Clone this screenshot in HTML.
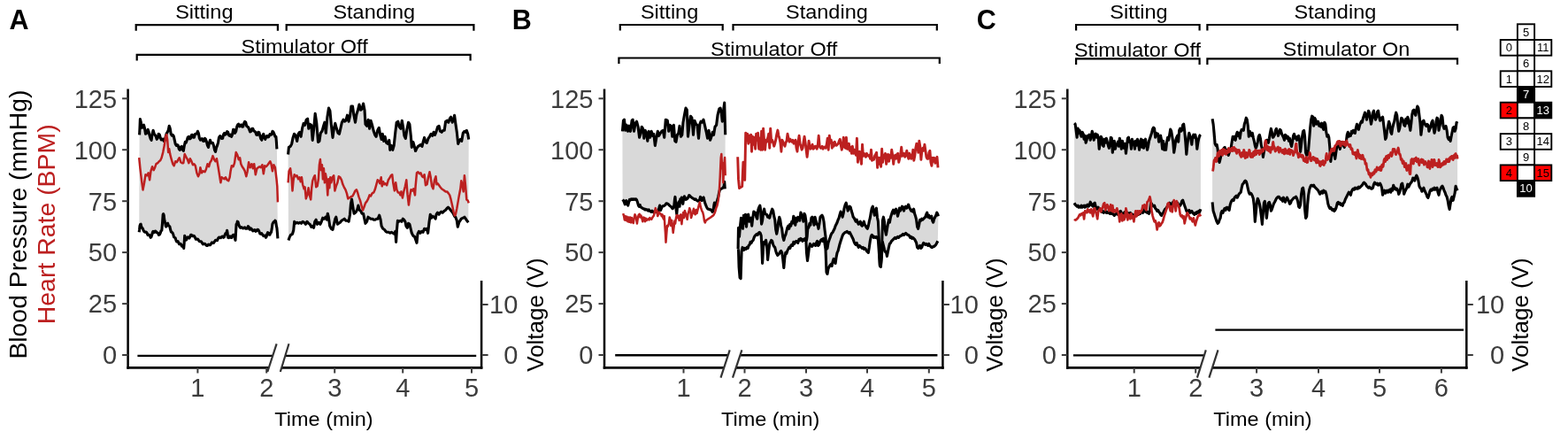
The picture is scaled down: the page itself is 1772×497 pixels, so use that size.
<!DOCTYPE html>
<html><head><meta charset="utf-8"><title>Figure</title>
<style>html,body{margin:0;padding:0;background:#fff;}svg{display:block;}</style>
</head><body>
<svg width="1772" height="497" viewBox="0 0 1772 497">
<rect width="1772" height="497" fill="#fff"/>
<polygon points="157.6,152.3 158.0,144.5 158.4,134.6 159.3,138.1 160.1,144.2 161.3,143.9 162.5,141.2 163.5,144.9 164.5,151.3 165.8,150.2 167.1,146.3 168.1,148.9 169.1,153.3 170.1,156.6 171.1,158.3 172.1,151.1 173.1,147.3 174.1,150.8 175.1,152.3 176.1,153.8 177.2,157.3 178.2,156.1 179.2,151.3 180.2,152.0 181.2,155.3 182.2,158.0 183.2,157.3 184.2,157.1 185.2,159.3 186.2,158.3 187.2,154.3 188.2,150.9 189.2,149.3 190.2,147.2 191.2,142.2 192.2,145.1 193.2,151.3 194.2,153.1 195.3,152.3 196.3,153.8 197.3,158.3 198.3,162.8 199.3,164.4 200.3,163.5 201.3,164.4 202.3,168.4 203.3,169.4 204.3,166.0 205.3,165.4 206.3,169.0 207.3,170.4 208.3,164.6 209.3,160.3 210.3,161.0 211.3,158.3 212.3,155.0 213.4,154.3 214.4,156.8 215.4,156.3 216.4,152.6 217.4,152.3 218.4,155.3 219.4,155.3 220.4,151.6 221.4,151.3 222.4,151.0 223.4,148.3 224.4,150.7 225.4,156.3 226.4,158.1 227.4,157.3 228.4,156.6 229.4,159.3 230.5,159.5 231.5,156.3 232.5,157.4 233.5,160.3 234.5,164.3 235.5,166.4 236.5,161.3 237.5,158.3 238.5,161.6 239.5,161.3 240.5,161.6 241.5,164.4 242.5,169.3 243.5,171.4 244.5,166.8 245.5,164.4 246.5,161.1 247.5,155.3 248.6,153.6 249.6,154.3 250.6,156.5 251.6,156.3 252.6,151.9 253.6,150.3 254.6,152.2 255.6,151.3 256.6,148.6 257.6,149.3 258.6,152.8 259.6,153.3 260.6,152.1 261.6,154.3 262.6,152.0 263.6,146.3 264.6,146.5 265.6,150.3 266.7,148.2 267.7,143.2 268.7,140.8 269.7,140.2 270.7,142.9 271.7,142.2 272.7,141.0 273.7,143.2 274.7,143.0 275.7,139.2 276.7,137.3 277.7,138.2 278.7,142.3 279.7,143.2 280.7,143.8 281.7,146.3 282.7,148.9 283.7,148.3 284.8,145.4 285.8,145.3 286.8,147.8 287.8,148.3 288.8,149.4 289.8,152.3 290.8,152.5 291.8,149.3 292.8,149.5 293.8,153.3 294.8,156.7 295.8,158.3 296.8,153.2 297.8,151.3 298.8,155.5 299.8,157.3 300.8,154.4 301.9,153.3 302.9,154.9 303.9,154.3 304.9,151.7 305.9,152.3 306.9,152.0 307.9,148.3 308.9,149.0 309.9,151.3 310.9,154.2 311.9,154.3 312.4,160.5 312.9,168.4 313.9,269.3 313.4,262.8 312.9,257.3 312.4,255.5 311.9,252.2 311.4,249.5 310.9,249.2 310.4,250.5 309.9,250.2 308.9,251.1 307.9,253.2 307.2,258.6 306.5,262.3 305.7,263.1 304.9,265.3 304.1,265.1 303.3,263.3 302.6,262.7 301.9,264.3 301.1,267.3 300.4,268.3 299.6,266.1 298.8,266.3 297.8,266.6 296.8,265.3 295.8,263.7 294.8,264.3 293.8,264.0 292.8,261.3 291.8,259.5 290.8,259.3 289.8,260.8 288.8,261.3 287.8,259.6 286.8,260.3 285.8,260.8 284.8,259.3 283.7,258.0 282.7,259.3 281.9,259.0 281.1,256.3 280.4,255.7 279.7,257.3 278.7,258.3 277.7,258.3 276.7,256.9 275.7,257.3 274.7,257.9 273.7,257.3 272.7,256.5 271.7,257.3 270.7,256.0 269.7,253.2 269.0,250.8 268.3,250.2 267.7,252.8 267.1,253.2 266.6,261.6 266.0,271.3 265.3,268.9 264.6,265.3 263.6,265.2 262.6,266.3 261.6,268.5 260.6,268.3 259.9,266.9 259.2,267.3 258.4,268.6 257.6,268.3 257.1,263.2 256.6,260.3 256.1,262.6 255.6,263.3 254.9,263.6 254.2,265.3 253.4,267.8 252.6,268.3 251.6,267.1 250.6,267.3 249.6,268.7 248.6,268.3 247.5,268.1 246.5,269.3 245.5,271.6 244.5,271.3 243.5,271.3 242.5,272.8 241.5,274.4 240.5,274.4 239.5,273.9 238.5,275.4 237.5,276.8 236.5,276.8 235.5,276.1 234.5,277.4 233.5,277.4 232.5,276.4 231.5,275.3 230.5,275.4 229.4,276.0 228.4,274.4 227.4,272.8 226.4,272.8 225.4,272.7 224.4,271.3 223.4,270.0 222.4,270.3 221.4,270.3 220.4,268.3 219.4,266.5 218.4,266.3 217.4,266.7 216.4,265.3 215.6,265.2 214.8,267.3 213.9,269.0 213.0,268.3 212.1,267.9 211.3,269.3 210.5,271.0 209.7,270.3 209.2,267.6 208.7,266.3 208.2,274.3 207.7,280.4 207.0,277.7 206.3,277.4 205.5,278.1 204.7,276.4 204.0,275.3 203.3,275.4 202.6,275.7 201.9,274.4 201.1,272.7 200.3,272.3 199.6,272.8 198.9,271.3 198.1,268.8 197.3,268.3 196.6,267.8 195.9,265.3 195.1,263.2 194.2,262.3 193.4,262.0 192.6,259.3 191.9,256.1 191.2,255.3 190.4,254.8 189.6,252.2 188.9,252.8 188.2,255.3 187.7,256.0 187.2,255.3 186.7,252.1 186.2,250.2 185.7,247.8 185.2,243.2 184.7,241.6 184.2,242.2 183.5,252.4 182.8,260.3 182.0,260.6 181.2,263.3 180.3,265.0 179.4,265.3 178.6,263.4 177.8,262.7 177.0,262.7 176.1,261.3 175.3,261.1 174.5,262.3 173.8,262.7 173.1,261.3 172.4,262.6 171.7,265.3 170.9,267.9 170.1,268.3 169.1,265.7 168.1,265.3 167.1,265.5 166.1,263.3 165.1,262.0 164.1,262.3 163.1,261.9 162.1,260.3 161.3,258.1 160.5,257.3 159.8,256.1 159.1,253.2 158.5,253.6 158.0,255.3 157.6,259.5 157.2,262.3" fill="#d9d9d9" stroke="none"/>
<polygon points="325.6,174.5 326.4,166.4 328.1,165.4 329.7,162.4 331.1,155.4 332.5,151.3 334.1,153.3 335.7,159.4 337.1,151.3 338.5,149.3 340.1,154.3 341.7,144.3 343.1,139.3 344.6,141.3 346.2,135.2 347.6,134.2 348.8,145.3 350.2,140.3 351.8,141.3 353.2,158.4 354.6,146.3 356.2,128.2 357.8,139.3 359.5,160.4 360.9,159.4 362.3,150.3 363.9,148.3 365.3,143.3 366.9,138.2 368.3,150.3 369.9,132.2 371.5,122.1 372.9,125.2 374.3,140.3 376.0,155.4 377.4,145.3 378.8,139.3 380.4,145.3 382.0,150.3 383.4,151.3 384.8,145.3 386.4,138.2 388.0,135.2 389.4,137.2 390.9,136.2 392.5,130.2 394.1,137.2 395.5,131.2 396.9,120.1 398.5,120.1 399.9,130.2 401.5,138.2 402.9,129.2 404.5,124.2 406.0,118.1 407.6,124.2 409.0,123.1 410.6,117.1 412.0,124.2 413.0,140.3 414.6,142.3 416.2,135.2 417.6,145.3 419.0,136.2 420.6,141.3 422.3,148.3 423.7,152.3 425.1,154.3 426.7,147.3 428.3,144.3 429.7,152.3 431.1,157.4 432.3,151.3 433.7,159.4 435.1,154.3 436.7,161.4 438.4,162.4 439.8,158.4 440.8,169.4 442.4,164.4 443.8,169.4 445.2,164.4 446.8,149.3 448.2,138.2 449.8,137.2 451.2,143.3 452.9,145.3 454.3,136.2 455.5,143.3 456.9,153.3 458.3,156.4 459.9,146.3 461.5,138.2 462.9,140.3 464.3,153.3 465.3,166.4 466.9,160.4 468.3,165.4 469.6,170.5 471.0,167.4 472.4,165.4 474.0,164.4 475.6,163.4 477.0,165.4 478.4,159.4 479.6,155.4 481.0,160.4 482.4,161.4 484.0,156.4 485.5,154.3 487.1,151.3 488.7,153.3 490.1,149.3 491.5,152.3 493.1,148.3 494.7,143.3 496.1,142.3 497.5,148.3 499.1,149.3 500.8,147.3 502.2,147.3 503.6,137.2 505.2,136.2 506.8,138.2 508.2,134.2 509.6,132.2 511.2,138.2 512.6,135.2 513.6,130.2 514.8,139.3 516.3,149.3 517.7,162.4 518.9,159.4 520.3,157.4 521.7,159.4 523.3,150.3 524.9,148.3 526.3,149.3 527.3,147.3 528.7,151.3 529.7,157.4 529.3,251.3 527.7,249.3 526.3,247.2 524.9,245.2 523.3,246.2 521.3,247.2 519.9,249.3 518.7,251.3 517.3,256.3 516.3,249.3 514.8,245.2 513.6,244.2 512.2,241.2 510.8,239.2 509.2,237.2 507.6,235.2 506.4,234.2 505.2,235.2 503.6,237.2 502.2,238.2 500.2,240.2 498.7,239.2 497.5,240.2 496.1,242.2 494.5,240.2 493.1,242.2 492.1,247.2 490.7,245.2 489.1,244.2 487.7,246.2 486.3,242.2 485.1,250.3 483.6,263.3 482.4,258.3 481.0,259.3 479.6,258.3 478.0,262.3 476.6,261.3 475.0,263.3 473.4,261.3 472.0,264.3 471.0,274.4 470.0,271.4 468.6,267.4 466.9,266.4 465.3,263.3 464.1,258.3 462.9,253.3 461.5,252.3 460.3,257.3 458.9,255.3 457.9,250.3 456.5,248.2 455.3,247.2 453.9,250.3 452.4,249.3 450.8,250.3 449.4,249.3 448.4,260.3 447.6,273.4 446.8,261.3 445.6,264.3 444.0,263.3 442.4,262.3 440.8,263.3 439.2,262.3 437.6,262.3 435.9,261.3 434.3,259.3 432.7,258.3 431.1,255.3 430.1,248.2 428.7,243.2 427.1,247.2 425.5,247.2 423.9,248.2 422.3,248.2 420.6,247.2 419.0,247.2 417.6,246.2 416.0,245.2 414.6,250.3 413.0,252.3 411.6,246.2 410.6,241.2 409.0,241.2 407.6,238.2 406.2,237.2 404.9,232.1 403.9,236.2 402.5,239.2 401.5,240.2 400.1,241.2 398.9,234.2 397.5,225.1 396.5,230.1 395.5,242.2 394.1,250.3 392.5,249.3 390.9,249.3 389.2,247.2 387.6,248.2 386.0,249.3 384.4,251.3 382.8,252.3 381.4,253.3 379.8,245.2 378.8,247.2 377.4,253.3 376.0,259.3 374.3,258.3 372.7,255.3 371.3,245.2 370.3,241.2 369.3,248.2 367.9,245.2 366.3,247.2 364.7,246.2 363.3,250.3 361.9,253.3 360.3,251.3 358.6,253.3 357.2,248.2 355.8,250.3 354.6,257.3 353.2,255.3 351.8,256.3 350.2,253.3 348.6,252.3 347.0,250.3 345.4,253.3 343.8,251.3 342.1,250.3 340.5,252.3 338.9,251.3 337.3,252.3 335.7,251.3 334.1,252.3 332.7,250.3 331.7,260.3 330.5,264.3 328.5,265.4 327.0,268.4 326.0,271.4" fill="#d9d9d9" stroke="none"/>
<polyline points="157.6,152.3 158.0,144.5 158.4,134.6 159.3,138.1 160.1,144.2 161.3,143.9 162.5,141.2 163.5,144.9 164.5,151.3 165.8,150.2 167.1,146.3 168.1,148.9 169.1,153.3 170.1,156.6 171.1,158.3 172.1,151.1 173.1,147.3 174.1,150.8 175.1,152.3 176.1,153.8 177.2,157.3 178.2,156.1 179.2,151.3 180.2,152.0 181.2,155.3 182.2,158.0 183.2,157.3 184.2,157.1 185.2,159.3 186.2,158.3 187.2,154.3 188.2,150.9 189.2,149.3 190.2,147.2 191.2,142.2 192.2,145.1 193.2,151.3 194.2,153.1 195.3,152.3 196.3,153.8 197.3,158.3 198.3,162.8 199.3,164.4 200.3,163.5 201.3,164.4 202.3,168.4 203.3,169.4 204.3,166.0 205.3,165.4 206.3,169.0 207.3,170.4 208.3,164.6 209.3,160.3 210.3,161.0 211.3,158.3 212.3,155.0 213.4,154.3 214.4,156.8 215.4,156.3 216.4,152.6 217.4,152.3 218.4,155.3 219.4,155.3 220.4,151.6 221.4,151.3 222.4,151.0 223.4,148.3 224.4,150.7 225.4,156.3 226.4,158.1 227.4,157.3 228.4,156.6 229.4,159.3 230.5,159.5 231.5,156.3 232.5,157.4 233.5,160.3 234.5,164.3 235.5,166.4 236.5,161.3 237.5,158.3 238.5,161.6 239.5,161.3 240.5,161.6 241.5,164.4 242.5,169.3 243.5,171.4 244.5,166.8 245.5,164.4 246.5,161.1 247.5,155.3 248.6,153.6 249.6,154.3 250.6,156.5 251.6,156.3 252.6,151.9 253.6,150.3 254.6,152.2 255.6,151.3 256.6,148.6 257.6,149.3 258.6,152.8 259.6,153.3 260.6,152.1 261.6,154.3 262.6,152.0 263.6,146.3 264.6,146.5 265.6,150.3 266.7,148.2 267.7,143.2 268.7,140.8 269.7,140.2 270.7,142.9 271.7,142.2 272.7,141.0 273.7,143.2 274.7,143.0 275.7,139.2 276.7,137.3 277.7,138.2 278.7,142.3 279.7,143.2 280.7,143.8 281.7,146.3 282.7,148.9 283.7,148.3 284.8,145.4 285.8,145.3 286.8,147.8 287.8,148.3 288.8,149.4 289.8,152.3 290.8,152.5 291.8,149.3 292.8,149.5 293.8,153.3 294.8,156.7 295.8,158.3 296.8,153.2 297.8,151.3 298.8,155.5 299.8,157.3 300.8,154.4 301.9,153.3 302.9,154.9 303.9,154.3 304.9,151.7 305.9,152.3 306.9,152.0 307.9,148.3 308.9,149.0 309.9,151.3 310.9,154.2 311.9,154.3 312.4,160.5 312.9,168.4" fill="none" stroke="#000" stroke-width="3.1" stroke-linejoin="round" stroke-linecap="butt"/>
<polyline points="157.2,262.3 157.6,259.5 158.0,255.3 158.5,253.6 159.1,253.2 159.8,256.1 160.5,257.3 161.3,258.1 162.1,260.3 163.1,261.9 164.1,262.3 165.1,262.0 166.1,263.3 167.1,265.5 168.1,265.3 169.1,265.7 170.1,268.3 170.9,267.9 171.7,265.3 172.4,262.6 173.1,261.3 173.8,262.7 174.5,262.3 175.3,261.1 176.1,261.3 177.0,262.7 177.8,262.7 178.6,263.4 179.4,265.3 180.3,265.0 181.2,263.3 182.0,260.6 182.8,260.3 183.5,252.4 184.2,242.2 184.7,241.6 185.2,243.2 185.7,247.8 186.2,250.2 186.7,252.1 187.2,255.3 187.7,256.0 188.2,255.3 188.9,252.8 189.6,252.2 190.4,254.8 191.2,255.3 191.9,256.1 192.6,259.3 193.4,262.0 194.2,262.3 195.1,263.2 195.9,265.3 196.6,267.8 197.3,268.3 198.1,268.8 198.9,271.3 199.6,272.8 200.3,272.3 201.1,272.7 201.9,274.4 202.6,275.7 203.3,275.4 204.0,275.3 204.7,276.4 205.5,278.1 206.3,277.4 207.0,277.7 207.7,280.4 208.2,274.3 208.7,266.3 209.2,267.6 209.7,270.3 210.5,271.0 211.3,269.3 212.1,267.9 213.0,268.3 213.9,269.0 214.8,267.3 215.6,265.2 216.4,265.3 217.4,266.7 218.4,266.3 219.4,266.5 220.4,268.3 221.4,270.3 222.4,270.3 223.4,270.0 224.4,271.3 225.4,272.7 226.4,272.8 227.4,272.8 228.4,274.4 229.4,276.0 230.5,275.4 231.5,275.3 232.5,276.4 233.5,277.4 234.5,277.4 235.5,276.1 236.5,276.8 237.5,276.8 238.5,275.4 239.5,273.9 240.5,274.4 241.5,274.4 242.5,272.8 243.5,271.3 244.5,271.3 245.5,271.6 246.5,269.3 247.5,268.1 248.6,268.3 249.6,268.7 250.6,267.3 251.6,267.1 252.6,268.3 253.4,267.8 254.2,265.3 254.9,263.6 255.6,263.3 256.1,262.6 256.6,260.3 257.1,263.2 257.6,268.3 258.4,268.6 259.2,267.3 259.9,266.9 260.6,268.3 261.6,268.5 262.6,266.3 263.6,265.2 264.6,265.3 265.3,268.9 266.0,271.3 266.6,261.6 267.1,253.2 267.7,252.8 268.3,250.2 269.0,250.8 269.7,253.2 270.7,256.0 271.7,257.3 272.7,256.5 273.7,257.3 274.7,257.9 275.7,257.3 276.7,256.9 277.7,258.3 278.7,258.3 279.7,257.3 280.4,255.7 281.1,256.3 281.9,259.0 282.7,259.3 283.7,258.0 284.8,259.3 285.8,260.8 286.8,260.3 287.8,259.6 288.8,261.3 289.8,260.8 290.8,259.3 291.8,259.5 292.8,261.3 293.8,264.0 294.8,264.3 295.8,263.7 296.8,265.3 297.8,266.6 298.8,266.3 299.6,266.1 300.4,268.3 301.1,267.3 301.9,264.3 302.6,262.7 303.3,263.3 304.1,265.1 304.9,265.3 305.7,263.1 306.5,262.3 307.2,258.6 307.9,253.2 308.9,251.1 309.9,250.2 310.4,250.5 310.9,249.2 311.4,249.5 311.9,252.2 312.4,255.5 312.9,257.3 313.4,262.8 313.9,269.3" fill="none" stroke="#000" stroke-width="3.1" stroke-linejoin="round" stroke-linecap="butt"/>
<polyline points="325.6,174.5 326.4,166.4 328.1,165.4 329.7,162.4 331.1,155.4 332.5,151.3 334.1,153.3 335.7,159.4 337.1,151.3 338.5,149.3 340.1,154.3 341.7,144.3 343.1,139.3 344.6,141.3 346.2,135.2 347.6,134.2 348.8,145.3 350.2,140.3 351.8,141.3 353.2,158.4 354.6,146.3 356.2,128.2 357.8,139.3 359.5,160.4 360.9,159.4 362.3,150.3 363.9,148.3 365.3,143.3 366.9,138.2 368.3,150.3 369.9,132.2 371.5,122.1 372.9,125.2 374.3,140.3 376.0,155.4 377.4,145.3 378.8,139.3 380.4,145.3 382.0,150.3 383.4,151.3 384.8,145.3 386.4,138.2 388.0,135.2 389.4,137.2 390.9,136.2 392.5,130.2 394.1,137.2 395.5,131.2 396.9,120.1 398.5,120.1 399.9,130.2 401.5,138.2 402.9,129.2 404.5,124.2 406.0,118.1 407.6,124.2 409.0,123.1 410.6,117.1 412.0,124.2 413.0,140.3 414.6,142.3 416.2,135.2 417.6,145.3 419.0,136.2 420.6,141.3 422.3,148.3 423.7,152.3 425.1,154.3 426.7,147.3 428.3,144.3 429.7,152.3 431.1,157.4 432.3,151.3 433.7,159.4 435.1,154.3 436.7,161.4 438.4,162.4 439.8,158.4 440.8,169.4 442.4,164.4 443.8,169.4 445.2,164.4 446.8,149.3 448.2,138.2 449.8,137.2 451.2,143.3 452.9,145.3 454.3,136.2 455.5,143.3 456.9,153.3 458.3,156.4 459.9,146.3 461.5,138.2 462.9,140.3 464.3,153.3 465.3,166.4 466.9,160.4 468.3,165.4 469.6,170.5 471.0,167.4 472.4,165.4 474.0,164.4 475.6,163.4 477.0,165.4 478.4,159.4 479.6,155.4 481.0,160.4 482.4,161.4 484.0,156.4 485.5,154.3 487.1,151.3 488.7,153.3 490.1,149.3 491.5,152.3 493.1,148.3 494.7,143.3 496.1,142.3 497.5,148.3 499.1,149.3 500.8,147.3 502.2,147.3 503.6,137.2 505.2,136.2 506.8,138.2 508.2,134.2 509.6,132.2 511.2,138.2 512.6,135.2 513.6,130.2 514.8,139.3 516.3,149.3 517.7,162.4 518.9,159.4 520.3,157.4 521.7,159.4 523.3,150.3 524.9,148.3 526.3,149.3 527.3,147.3 528.7,151.3 529.7,157.4" fill="none" stroke="#000" stroke-width="3.1" stroke-linejoin="round" stroke-linecap="butt"/>
<polyline points="326.0,271.4 327.0,268.4 328.5,265.4 330.5,264.3 331.7,260.3 332.7,250.3 334.1,252.3 335.7,251.3 337.3,252.3 338.9,251.3 340.5,252.3 342.1,250.3 343.8,251.3 345.4,253.3 347.0,250.3 348.6,252.3 350.2,253.3 351.8,256.3 353.2,255.3 354.6,257.3 355.8,250.3 357.2,248.2 358.6,253.3 360.3,251.3 361.9,253.3 363.3,250.3 364.7,246.2 366.3,247.2 367.9,245.2 369.3,248.2 370.3,241.2 371.3,245.2 372.7,255.3 374.3,258.3 376.0,259.3 377.4,253.3 378.8,247.2 379.8,245.2 381.4,253.3 382.8,252.3 384.4,251.3 386.0,249.3 387.6,248.2 389.2,247.2 390.9,249.3 392.5,249.3 394.1,250.3 395.5,242.2 396.5,230.1 397.5,225.1 398.9,234.2 400.1,241.2 401.5,240.2 402.5,239.2 403.9,236.2 404.9,232.1 406.2,237.2 407.6,238.2 409.0,241.2 410.6,241.2 411.6,246.2 413.0,252.3 414.6,250.3 416.0,245.2 417.6,246.2 419.0,247.2 420.6,247.2 422.3,248.2 423.9,248.2 425.5,247.2 427.1,247.2 428.7,243.2 430.1,248.2 431.1,255.3 432.7,258.3 434.3,259.3 435.9,261.3 437.6,262.3 439.2,262.3 440.8,263.3 442.4,262.3 444.0,263.3 445.6,264.3 446.8,261.3 447.6,273.4 448.4,260.3 449.4,249.3 450.8,250.3 452.4,249.3 453.9,250.3 455.3,247.2 456.5,248.2 457.9,250.3 458.9,255.3 460.3,257.3 461.5,252.3 462.9,253.3 464.1,258.3 465.3,263.3 466.9,266.4 468.6,267.4 470.0,271.4 471.0,274.4 472.0,264.3 473.4,261.3 475.0,263.3 476.6,261.3 478.0,262.3 479.6,258.3 481.0,259.3 482.4,258.3 483.6,263.3 485.1,250.3 486.3,242.2 487.7,246.2 489.1,244.2 490.7,245.2 492.1,247.2 493.1,242.2 494.5,240.2 496.1,242.2 497.5,240.2 498.7,239.2 500.2,240.2 502.2,238.2 503.6,237.2 505.2,235.2 506.4,234.2 507.6,235.2 509.2,237.2 510.8,239.2 512.2,241.2 513.6,244.2 514.8,245.2 516.3,249.3 517.3,256.3 518.7,251.3 519.9,249.3 521.3,247.2 523.3,246.2 524.9,245.2 526.3,247.2 527.7,249.3 529.3,251.3" fill="none" stroke="#000" stroke-width="3.1" stroke-linejoin="round" stroke-linecap="butt"/>
<polyline points="157.2,178.2 158.4,190.2 160.1,204.3 161.5,214.4 163.1,206.3 164.5,197.3 166.1,198.3 167.7,195.3 169.1,203.3 170.5,193.2 172.1,188.2 173.7,192.2 175.1,189.2 176.5,185.2 178.2,184.2 179.8,182.2 181.2,181.2 182.6,178.2 184.2,172.1 185.8,164.1 187.2,154.0 188.2,152.0 189.2,158.0 190.2,172.1 191.2,168.1 192.2,174.1 193.8,180.2 195.3,185.2 196.7,187.2 198.3,182.2 199.9,183.2 201.5,180.2 202.7,178.2 204.3,183.2 205.9,184.2 207.3,184.2 208.7,174.1 210.3,177.2 211.9,180.2 213.4,184.2 214.8,179.2 216.4,182.2 218.0,186.2 219.4,185.2 220.8,187.2 222.4,195.3 224.0,199.3 225.4,196.3 226.4,189.2 228.0,195.3 229.4,193.2 231.5,194.2 232.9,191.2 234.5,185.2 236.1,188.2 237.5,183.2 238.9,181.2 240.5,176.1 242.1,180.2 243.5,182.2 244.9,179.2 246.5,188.2 248.1,198.3 249.4,206.3 250.6,200.3 252.0,201.3 253.6,202.3 255.0,200.3 256.6,203.3 258.2,204.3 259.6,200.3 260.6,193.2 261.8,187.2 263.6,188.2 265.0,184.2 266.7,172.1 268.3,175.1 269.7,180.2 271.1,178.2 272.3,185.2 273.7,188.2 275.1,190.2 276.7,193.2 278.3,199.3 279.7,193.2 281.1,183.2 282.7,189.2 284.4,185.2 285.8,190.2 287.2,185.2 288.8,197.3 290.4,190.2 291.8,189.2 293.2,188.2 294.8,189.2 296.4,186.2 297.8,196.3 299.2,187.2 300.8,188.2 302.5,186.2 303.9,184.2 305.3,182.2 306.5,185.2 307.9,193.2 309.3,186.2 310.9,189.2 312.5,202.3 313.3,210.3 313.9,228.4" fill="none" stroke="#bc2020" stroke-width="2.5" stroke-linejoin="round" stroke-linecap="butt"/>
<polyline points="325.6,206.3 326.6,193.2 328.1,190.2 329.5,200.3 330.5,215.4 331.5,204.3 332.7,197.2 334.1,199.3 335.5,198.2 337.1,202.3 338.5,200.3 339.7,205.3 340.9,200.3 342.1,208.3 343.6,213.3 344.6,211.3 345.8,224.4 347.2,220.4 348.6,212.3 349.8,220.4 351.2,225.4 352.2,212.3 353.2,204.3 354.6,200.3 355.8,198.2 357.2,211.3 358.6,210.3 359.9,202.3 360.9,186.2 361.9,180.1 362.9,192.2 363.9,186.2 364.9,202.3 365.9,190.2 366.9,206.3 367.9,196.2 369.3,204.3 370.3,220.4 371.3,202.3 372.3,212.3 373.3,200.3 374.3,206.3 375.8,200.3 377.2,198.2 378.4,215.4 379.8,210.3 381.4,206.3 382.8,199.3 384.4,200.3 386.0,203.3 387.4,208.3 388.8,211.3 390.5,214.3 391.9,218.4 393.3,224.4 394.9,223.4 396.5,222.4 398.5,221.4 400.1,218.4 401.5,215.4 402.9,214.3 404.1,217.4 405.5,222.4 407.0,226.4 408.6,232.5 410.0,237.5 411.6,233.5 413.0,229.4 414.6,227.4 416.2,224.4 417.6,220.4 419.0,221.4 420.6,218.4 422.3,217.4 423.7,214.3 425.1,209.3 426.7,203.3 428.1,204.3 429.3,207.3 430.7,200.3 431.7,210.3 433.1,205.3 434.3,208.3 435.7,207.3 437.1,209.3 438.8,203.3 440.2,201.3 441.8,198.2 443.2,197.2 444.4,207.3 445.8,215.4 447.2,206.3 448.4,214.3 449.8,217.4 451.2,217.4 452.4,220.4 453.5,216.4 454.9,223.4 456.3,216.4 457.9,210.3 459.3,203.3 460.5,219.4 461.9,231.5 463.3,220.4 464.5,214.3 465.9,215.4 467.3,213.3 469.0,220.4 469.6,210.3 471.0,195.2 472.4,194.2 474.0,196.2 475.4,195.2 477.0,199.3 478.4,200.3 479.6,197.2 481.0,209.3 482.6,208.3 484.0,200.3 485.5,194.2 486.7,200.3 488.1,210.3 489.5,213.3 491.1,203.3 492.5,199.3 493.5,208.3 494.7,207.3 496.1,209.3 497.5,211.3 499.1,213.3 500.6,214.3 502.2,215.4 503.6,216.4 505.2,216.4 506.8,218.4 508.2,220.4 509.6,225.4 511.2,232.5 512.6,239.5 513.8,243.5 514.8,242.5 516.3,235.5 517.7,227.4 518.9,220.4 520.3,213.3 521.3,204.3 522.5,208.3 523.7,216.4 524.9,198.2 526.1,210.3 527.3,225.4 528.7,226.4 529.7,229.4" fill="none" stroke="#bc2020" stroke-width="2.5" stroke-linejoin="round" stroke-linecap="butt"/>
<polygon points="703.4,148.3 704.5,136.2 705.5,135.2 706.7,147.3 708.1,141.2 709.5,148.3 711.1,142.2 712.5,148.3 714.1,136.2 715.1,135.2 716.5,148.3 718.1,139.2 719.5,137.2 721.1,143.2 722.6,155.3 723.8,151.3 725.2,143.2 726.6,145.3 727.8,156.3 729.2,147.3 730.6,150.3 731.8,159.3 733.2,148.3 734.6,155.3 736.2,148.3 737.6,153.3 738.8,151.3 740.3,164.4 741.7,156.3 743.3,148.3 744.7,153.3 746.3,150.3 747.7,148.3 749.3,147.3 750.7,155.3 752.3,135.2 754.3,136.2 755.7,148.3 756.9,141.2 758.4,142.2 759.8,154.3 761.4,141.2 762.8,159.3 764.0,160.3 765.4,152.3 766.8,150.3 768.0,142.2 769.4,154.3 770.8,152.3 772.0,138.2 773.4,130.2 775.0,122.1 776.3,124.1 777.5,154.3 778.9,142.2 780.5,131.2 781.9,133.2 783.5,152.3 784.9,136.2 786.5,140.2 787.9,141.2 789.5,156.3 790.9,140.2 792.1,137.2 793.6,138.2 795.0,135.2 796.6,142.2 798.0,148.3 799.6,156.3 801.0,147.3 802.6,158.3 804.0,154.3 805.2,149.3 806.6,152.3 808.0,143.2 809.6,141.2 811.0,130.2 812.7,123.1 814.1,122.1 815.3,128.2 816.3,137.2 817.7,124.1 818.7,116.1 819.7,152.3 819.3,213.3 818.7,205.3 818.1,210.3 816.9,212.3 815.3,213.3 813.7,213.3 812.7,217.3 811.7,222.3 810.0,228.4 808.6,233.4 807.4,229.1 806.8,232.1 806.0,238.7 805.0,239.3 804.1,237.5 803.2,236.9 802.4,236.9 801.4,236.3 800.4,236.3 799.6,235.7 798.8,234.5 797.8,232.1 796.8,229.7 796.0,226.6 795.1,223.0 794.2,223.6 793.2,226.6 792.4,224.8 791.5,222.4 790.5,226.0 789.6,226.6 788.7,227.2 787.9,226.6 786.9,226.0 786.0,224.8 785.1,225.4 784.3,224.8 783.3,224.2 782.3,223.6 781.5,223.0 780.6,222.4 779.7,221.2 778.7,220.6 777.9,222.4 777.0,224.2 776.1,224.8 775.1,225.4 774.2,223.0 773.4,221.8 772.7,223.6 771.8,230.3 771.0,227.2 770.3,223.0 769.7,226.0 768.8,224.8 768.0,233.3 767.2,227.8 766.4,229.7 765.4,234.5 764.8,241.7 764.2,237.5 763.6,229.7 763.0,222.4 762.5,224.8 761.8,232.1 761.0,234.5 760.1,235.7 759.2,234.5 758.2,233.3 757.3,232.7 756.5,232.1 755.5,230.9 754.6,230.3 753.7,229.7 752.9,229.7 751.9,231.5 750.9,232.1 750.1,232.7 749.3,232.7 748.3,233.3 747.3,235.7 746.5,237.5 745.6,232.1 744.9,234.5 744.1,236.9 743.1,239.9 742.3,239.9 741.3,238.1 740.4,238.1 739.6,239.3 738.6,239.9 737.7,238.7 736.8,238.1 736.0,239.3 735.0,238.7 734.0,238.1 733.2,236.9 732.4,238.1 731.4,236.9 730.4,236.9 729.6,236.3 728.7,236.9 727.8,235.7 726.8,235.7 726.0,235.1 725.1,234.5 724.1,233.9 723.2,231.5 722.3,233.3 721.5,232.1 720.5,228.5 719.6,226.0 718.7,224.8 717.9,225.4 716.9,224.8 715.9,225.4 715.1,224.8 714.2,225.4 713.3,224.8 712.3,226.0 711.5,225.4 710.6,228.5 709.7,232.1 708.7,230.3 707.8,226.6 707.0,227.2 706.3,230.9 705.4,228.5 704.6,226.6 703.6,225.4" fill="#d9d9d9" stroke="none"/>
<polygon points="834.1,281.4 834.5,257.2 835.5,267.3 836.5,255.2 837.5,246.2 838.5,249.2 839.5,258.3 840.5,243.2 841.5,252.2 842.5,242.2 843.5,256.2 844.5,243.2 845.7,242.2 846.7,250.2 847.7,248.2 848.7,246.2 849.7,255.2 850.7,246.2 851.8,239.1 852.8,242.2 853.8,240.1 854.8,245.2 855.8,247.2 856.8,237.1 857.8,234.1 858.8,232.1 859.6,237.1 860.6,253.2 861.6,249.2 862.6,240.1 863.6,236.1 864.6,241.2 865.6,242.2 866.6,242.2 867.6,245.2 868.7,244.2 869.7,246.2 870.7,242.2 871.7,239.1 872.7,236.1 873.7,238.1 874.7,244.2 875.7,248.2 876.7,259.3 877.7,264.3 878.7,259.3 879.7,250.2 880.7,245.2 881.7,248.2 882.7,255.2 883.7,258.3 884.7,267.3 885.8,271.3 886.8,267.3 887.8,265.3 888.8,261.3 889.8,257.2 890.8,255.2 891.8,258.3 892.8,253.2 893.8,255.2 894.8,250.2 895.8,252.2 896.8,244.2 897.8,247.2 898.8,254.2 899.8,246.2 900.8,250.2 901.8,245.2 902.9,246.2 903.9,249.2 904.9,240.1 905.9,243.2 906.9,244.2 907.9,250.2 908.9,241.2 909.9,243.2 910.9,250.2 911.5,271.3 912.1,267.3 912.9,257.2 913.9,257.2 914.9,252.2 915.9,254.2 916.9,246.2 917.9,245.2 918.9,247.2 920.0,254.2 921.0,245.2 922.0,249.2 923.0,253.2 924.0,254.2 925.0,258.3 926.0,252.2 927.0,245.2 928.0,244.2 929.0,243.2 930.0,245.2 931.0,250.2 932.0,259.3 933.0,267.3 934.0,281.4 935.0,280.4 936.0,274.3 937.0,271.3 938.1,268.3 939.1,265.3 940.1,263.3 941.1,262.3 942.1,260.3 943.1,258.3 944.1,255.2 945.1,253.2 946.1,251.2 947.1,248.2 948.1,246.2 949.1,242.2 950.1,239.1 951.1,241.2 952.1,245.2 953.1,241.2 954.1,235.1 955.2,231.1 956.2,229.1 957.2,233.1 958.2,238.1 959.2,235.1 960.2,233.1 961.2,234.1 962.2,238.1 963.2,241.2 964.2,245.2 965.2,246.2 966.2,248.2 967.2,250.2 968.2,248.2 969.2,251.2 970.2,253.2 971.2,251.2 972.3,250.2 973.3,254.2 974.3,255.2 975.3,252.2 976.3,250.2 977.3,254.2 978.3,255.2 979.3,257.2 980.3,258.3 981.3,255.2 982.3,250.2 983.3,246.2 984.3,240.1 985.3,235.1 986.3,233.1 987.3,238.1 988.3,243.2 989.4,238.1 990.4,235.1 991.4,245.2 992.4,250.2 993.4,271.3 994.4,299.5 995.4,301.5 996.4,287.4 997.4,249.2 998.4,245.2 999.4,250.2 1000.4,260.3 1001.4,265.3 1002.4,259.3 1003.4,253.2 1004.4,248.2 1005.4,251.2 1006.5,245.2 1007.5,242.2 1008.5,239.1 1009.5,237.1 1010.5,241.2 1011.5,238.1 1012.5,236.1 1013.5,239.1 1014.5,244.2 1015.5,240.1 1016.5,235.1 1017.5,238.1 1018.5,236.1 1019.5,233.1 1020.5,234.1 1021.5,238.1 1022.5,234.1 1023.6,233.1 1024.6,235.1 1025.6,234.1 1026.6,231.1 1027.6,234.1 1028.6,236.1 1029.6,238.1 1030.6,237.1 1031.6,239.1 1032.6,236.1 1033.6,241.2 1034.6,244.2 1035.6,248.2 1036.6,256.2 1037.6,258.3 1038.6,254.2 1039.6,248.2 1040.7,249.2 1041.7,247.2 1042.7,248.2 1043.7,247.2 1044.7,246.2 1045.7,245.2 1046.7,242.2 1047.7,240.1 1048.7,245.2 1049.7,243.2 1050.7,246.2 1051.7,245.2 1052.7,244.2 1053.7,249.2 1054.7,251.2 1055.7,247.2 1056.7,245.2 1057.7,243.2 1058.8,240.1 1059.8,242.2 1060.4,244.2 1059.8,272.3 1058.8,274.3 1057.7,276.4 1056.7,277.4 1055.7,278.4 1054.7,278.4 1053.7,279.4 1052.7,279.4 1051.7,278.4 1050.7,277.4 1049.7,275.4 1048.7,277.4 1047.7,276.4 1046.7,275.4 1045.7,276.4 1044.7,275.4 1043.7,274.3 1042.7,276.4 1041.7,279.4 1040.7,280.4 1039.6,277.4 1038.6,279.4 1037.6,280.4 1036.6,279.4 1035.6,274.3 1034.6,272.3 1033.6,270.3 1032.6,269.3 1031.6,268.3 1030.6,269.3 1029.6,267.3 1028.6,268.3 1027.6,266.3 1026.6,265.3 1025.6,265.3 1024.6,264.3 1023.6,263.3 1022.5,264.3 1021.5,265.3 1020.5,264.3 1019.5,265.3 1018.5,266.3 1017.5,266.3 1016.5,267.3 1015.5,268.3 1014.5,267.3 1013.5,268.3 1012.5,269.3 1011.5,268.3 1010.5,269.3 1009.5,270.3 1008.5,271.3 1007.5,272.3 1006.5,274.3 1005.4,275.4 1004.4,279.4 1003.4,284.4 1002.4,289.4 1001.4,284.4 1000.4,284.4 999.4,281.4 998.4,277.4 997.4,273.3 996.4,289.4 995.4,299.5 994.4,300.5 993.4,285.4 992.4,271.3 991.4,268.3 990.4,267.3 989.4,268.3 988.3,267.3 987.3,268.3 986.3,266.3 985.3,265.3 984.3,267.3 983.3,272.3 982.3,279.4 981.3,285.4 980.3,284.4 979.3,283.4 978.3,281.4 977.3,280.4 976.3,281.4 975.3,279.4 974.3,280.4 973.3,279.4 972.3,278.4 971.2,277.4 970.2,279.4 969.2,277.4 968.2,274.3 967.2,276.4 966.2,275.4 965.2,273.3 964.2,270.3 963.2,268.3 962.2,266.3 961.2,264.3 960.2,262.3 959.2,263.3 958.2,262.3 957.2,261.3 956.2,262.3 955.2,262.3 954.1,263.3 953.1,264.3 952.1,266.3 951.1,269.3 950.1,272.3 949.1,275.4 948.1,279.4 947.1,283.4 946.1,285.4 945.1,290.4 944.1,297.5 943.1,295.5 942.1,292.4 941.1,295.5 940.1,300.5 939.1,298.5 938.1,299.5 937.0,301.5 936.0,303.5 935.0,309.5 934.0,307.5 933.0,281.4 931.6,272.3 930.6,269.3 929.6,272.3 928.6,270.3 927.6,271.3 926.6,273.3 925.6,276.4 924.6,277.4 923.6,272.3 922.6,274.3 921.6,277.4 920.6,276.4 919.5,275.4 918.5,277.4 917.5,278.4 916.5,277.4 915.5,275.4 914.5,279.4 913.5,287.4 912.5,294.5 911.5,285.4 910.9,271.3 909.9,269.3 908.9,271.3 907.9,270.3 906.9,272.3 905.9,270.3 904.9,269.3 903.9,271.3 902.9,270.3 901.8,274.3 900.8,273.3 899.8,272.3 898.8,273.3 897.8,275.4 896.8,273.3 895.8,277.4 894.8,276.4 893.8,277.4 892.8,280.4 891.8,279.4 890.8,281.4 889.8,283.4 888.8,286.4 887.8,285.4 886.8,291.4 885.8,302.5 884.7,292.4 883.7,285.4 882.7,283.4 881.7,284.4 880.7,286.4 879.7,287.4 878.7,288.4 877.7,286.4 876.7,283.4 875.7,279.4 874.7,278.4 873.7,276.4 872.7,272.3 871.7,271.3 870.7,273.3 869.7,275.4 868.7,283.4 867.6,293.5 866.6,278.4 865.6,271.3 864.6,275.4 863.6,273.3 862.6,279.4 861.6,297.5 860.8,276.4 860.2,266.3 859.2,263.3 858.2,262.3 857.2,263.3 856.2,265.3 855.2,264.3 854.2,265.3 853.2,266.3 852.2,268.3 851.2,271.3 850.1,272.3 849.1,274.3 848.1,273.3 847.1,276.4 846.1,277.4 845.1,280.4 844.1,279.4 843.1,281.4 841.7,280.4 840.7,282.4 839.1,279.4 838.1,284.4 837.7,295.5 837.1,314.6 836.1,313.6 835.1,301.5 834.5,281.4" fill="#d9d9d9" stroke="none"/>
<polyline points="703.4,148.3 704.5,136.2 705.5,135.2 706.7,147.3 708.1,141.2 709.5,148.3 711.1,142.2 712.5,148.3 714.1,136.2 715.1,135.2 716.5,148.3 718.1,139.2 719.5,137.2 721.1,143.2 722.6,155.3 723.8,151.3 725.2,143.2 726.6,145.3 727.8,156.3 729.2,147.3 730.6,150.3 731.8,159.3 733.2,148.3 734.6,155.3 736.2,148.3 737.6,153.3 738.8,151.3 740.3,164.4 741.7,156.3 743.3,148.3 744.7,153.3 746.3,150.3 747.7,148.3 749.3,147.3 750.7,155.3 752.3,135.2 754.3,136.2 755.7,148.3 756.9,141.2 758.4,142.2 759.8,154.3 761.4,141.2 762.8,159.3 764.0,160.3 765.4,152.3 766.8,150.3 768.0,142.2 769.4,154.3 770.8,152.3 772.0,138.2 773.4,130.2 775.0,122.1 776.3,124.1 777.5,154.3 778.9,142.2 780.5,131.2 781.9,133.2 783.5,152.3 784.9,136.2 786.5,140.2 787.9,141.2 789.5,156.3 790.9,140.2 792.1,137.2 793.6,138.2 795.0,135.2 796.6,142.2 798.0,148.3 799.6,156.3 801.0,147.3 802.6,158.3 804.0,154.3 805.2,149.3 806.6,152.3 808.0,143.2 809.6,141.2 811.0,130.2 812.7,123.1 814.1,122.1 815.3,128.2 816.3,137.2 817.7,124.1 818.7,116.1 819.7,152.3" fill="none" stroke="#000" stroke-width="3.1" stroke-linejoin="round" stroke-linecap="butt"/>
<polyline points="703.6,225.4 704.6,226.6 705.4,228.5 706.3,230.9 707.0,227.2 707.8,226.6 708.7,230.3 709.7,232.1 710.6,228.5 711.5,225.4 712.3,226.0 713.3,224.8 714.2,225.4 715.1,224.8 715.9,225.4 716.9,224.8 717.9,225.4 718.7,224.8 719.6,226.0 720.5,228.5 721.5,232.1 722.3,233.3 723.2,231.5 724.1,233.9 725.1,234.5 726.0,235.1 726.8,235.7 727.8,235.7 728.7,236.9 729.6,236.3 730.4,236.9 731.4,236.9 732.4,238.1 733.2,236.9 734.0,238.1 735.0,238.7 736.0,239.3 736.8,238.1 737.7,238.7 738.6,239.9 739.6,239.3 740.4,238.1 741.3,238.1 742.3,239.9 743.1,239.9 744.1,236.9 744.9,234.5 745.6,232.1 746.5,237.5 747.3,235.7 748.3,233.3 749.3,232.7 750.1,232.7 750.9,232.1 751.9,231.5 752.9,229.7 753.7,229.7 754.6,230.3 755.5,230.9 756.5,232.1 757.3,232.7 758.2,233.3 759.2,234.5 760.1,235.7 761.0,234.5 761.8,232.1 762.5,224.8 763.0,222.4 763.6,229.7 764.2,237.5 764.8,241.7 765.4,234.5 766.4,229.7 767.2,227.8 768.0,233.3 768.8,224.8 769.7,226.0 770.3,223.0 771.0,227.2 771.8,230.3 772.7,223.6 773.4,221.8 774.2,223.0 775.1,225.4 776.1,224.8 777.0,224.2 777.9,222.4 778.7,220.6 779.7,221.2 780.6,222.4 781.5,223.0 782.3,223.6 783.3,224.2 784.3,224.8 785.1,225.4 786.0,224.8 786.9,226.0 787.9,226.6 788.7,227.2 789.6,226.6 790.5,226.0 791.5,222.4 792.4,224.8 793.2,226.6 794.2,223.6 795.1,223.0 796.0,226.6 796.8,229.7 797.8,232.1 798.8,234.5 799.6,235.7 800.4,236.3 801.4,236.3 802.4,236.9 803.2,236.9 804.1,237.5 805.0,239.3 806.0,238.7 806.8,232.1 807.4,229.1 808.6,233.4 810.0,228.4 811.7,222.3 812.7,217.3 813.7,213.3 815.3,213.3 816.9,212.3 818.1,210.3 818.7,205.3 819.3,213.3" fill="none" stroke="#000" stroke-width="3.1" stroke-linejoin="round" stroke-linecap="butt"/>
<polyline points="834.1,281.4 834.5,257.2 835.5,267.3 836.5,255.2 837.5,246.2 838.5,249.2 839.5,258.3 840.5,243.2 841.5,252.2 842.5,242.2 843.5,256.2 844.5,243.2 845.7,242.2 846.7,250.2 847.7,248.2 848.7,246.2 849.7,255.2 850.7,246.2 851.8,239.1 852.8,242.2 853.8,240.1 854.8,245.2 855.8,247.2 856.8,237.1 857.8,234.1 858.8,232.1 859.6,237.1 860.6,253.2 861.6,249.2 862.6,240.1 863.6,236.1 864.6,241.2 865.6,242.2 866.6,242.2 867.6,245.2 868.7,244.2 869.7,246.2 870.7,242.2 871.7,239.1 872.7,236.1 873.7,238.1 874.7,244.2 875.7,248.2 876.7,259.3 877.7,264.3 878.7,259.3 879.7,250.2 880.7,245.2 881.7,248.2 882.7,255.2 883.7,258.3 884.7,267.3 885.8,271.3 886.8,267.3 887.8,265.3 888.8,261.3 889.8,257.2 890.8,255.2 891.8,258.3 892.8,253.2 893.8,255.2 894.8,250.2 895.8,252.2 896.8,244.2 897.8,247.2 898.8,254.2 899.8,246.2 900.8,250.2 901.8,245.2 902.9,246.2 903.9,249.2 904.9,240.1 905.9,243.2 906.9,244.2 907.9,250.2 908.9,241.2 909.9,243.2 910.9,250.2 911.5,271.3 912.1,267.3 912.9,257.2 913.9,257.2 914.9,252.2 915.9,254.2 916.9,246.2 917.9,245.2 918.9,247.2 920.0,254.2 921.0,245.2 922.0,249.2 923.0,253.2 924.0,254.2 925.0,258.3 926.0,252.2 927.0,245.2 928.0,244.2 929.0,243.2 930.0,245.2 931.0,250.2 932.0,259.3 933.0,267.3 934.0,281.4 935.0,280.4 936.0,274.3 937.0,271.3 938.1,268.3 939.1,265.3 940.1,263.3 941.1,262.3 942.1,260.3 943.1,258.3 944.1,255.2 945.1,253.2 946.1,251.2 947.1,248.2 948.1,246.2 949.1,242.2 950.1,239.1 951.1,241.2 952.1,245.2 953.1,241.2 954.1,235.1 955.2,231.1 956.2,229.1 957.2,233.1 958.2,238.1 959.2,235.1 960.2,233.1 961.2,234.1 962.2,238.1 963.2,241.2 964.2,245.2 965.2,246.2 966.2,248.2 967.2,250.2 968.2,248.2 969.2,251.2 970.2,253.2 971.2,251.2 972.3,250.2 973.3,254.2 974.3,255.2 975.3,252.2 976.3,250.2 977.3,254.2 978.3,255.2 979.3,257.2 980.3,258.3 981.3,255.2 982.3,250.2 983.3,246.2 984.3,240.1 985.3,235.1 986.3,233.1 987.3,238.1 988.3,243.2 989.4,238.1 990.4,235.1 991.4,245.2 992.4,250.2 993.4,271.3 994.4,299.5 995.4,301.5 996.4,287.4 997.4,249.2 998.4,245.2 999.4,250.2 1000.4,260.3 1001.4,265.3 1002.4,259.3 1003.4,253.2 1004.4,248.2 1005.4,251.2 1006.5,245.2 1007.5,242.2 1008.5,239.1 1009.5,237.1 1010.5,241.2 1011.5,238.1 1012.5,236.1 1013.5,239.1 1014.5,244.2 1015.5,240.1 1016.5,235.1 1017.5,238.1 1018.5,236.1 1019.5,233.1 1020.5,234.1 1021.5,238.1 1022.5,234.1 1023.6,233.1 1024.6,235.1 1025.6,234.1 1026.6,231.1 1027.6,234.1 1028.6,236.1 1029.6,238.1 1030.6,237.1 1031.6,239.1 1032.6,236.1 1033.6,241.2 1034.6,244.2 1035.6,248.2 1036.6,256.2 1037.6,258.3 1038.6,254.2 1039.6,248.2 1040.7,249.2 1041.7,247.2 1042.7,248.2 1043.7,247.2 1044.7,246.2 1045.7,245.2 1046.7,242.2 1047.7,240.1 1048.7,245.2 1049.7,243.2 1050.7,246.2 1051.7,245.2 1052.7,244.2 1053.7,249.2 1054.7,251.2 1055.7,247.2 1056.7,245.2 1057.7,243.2 1058.8,240.1 1059.8,242.2 1060.4,244.2" fill="none" stroke="#000" stroke-width="3.1" stroke-linejoin="round" stroke-linecap="butt"/>
<polyline points="834.5,281.4 835.1,301.5 836.1,313.6 837.1,314.6 837.7,295.5 838.1,284.4 839.1,279.4 840.7,282.4 841.7,280.4 843.1,281.4 844.1,279.4 845.1,280.4 846.1,277.4 847.1,276.4 848.1,273.3 849.1,274.3 850.1,272.3 851.2,271.3 852.2,268.3 853.2,266.3 854.2,265.3 855.2,264.3 856.2,265.3 857.2,263.3 858.2,262.3 859.2,263.3 860.2,266.3 860.8,276.4 861.6,297.5 862.6,279.4 863.6,273.3 864.6,275.4 865.6,271.3 866.6,278.4 867.6,293.5 868.7,283.4 869.7,275.4 870.7,273.3 871.7,271.3 872.7,272.3 873.7,276.4 874.7,278.4 875.7,279.4 876.7,283.4 877.7,286.4 878.7,288.4 879.7,287.4 880.7,286.4 881.7,284.4 882.7,283.4 883.7,285.4 884.7,292.4 885.8,302.5 886.8,291.4 887.8,285.4 888.8,286.4 889.8,283.4 890.8,281.4 891.8,279.4 892.8,280.4 893.8,277.4 894.8,276.4 895.8,277.4 896.8,273.3 897.8,275.4 898.8,273.3 899.8,272.3 900.8,273.3 901.8,274.3 902.9,270.3 903.9,271.3 904.9,269.3 905.9,270.3 906.9,272.3 907.9,270.3 908.9,271.3 909.9,269.3 910.9,271.3 911.5,285.4 912.5,294.5 913.5,287.4 914.5,279.4 915.5,275.4 916.5,277.4 917.5,278.4 918.5,277.4 919.5,275.4 920.6,276.4 921.6,277.4 922.6,274.3 923.6,272.3 924.6,277.4 925.6,276.4 926.6,273.3 927.6,271.3 928.6,270.3 929.6,272.3 930.6,269.3 931.6,272.3 933.0,281.4 934.0,307.5 935.0,309.5 936.0,303.5 937.0,301.5 938.1,299.5 939.1,298.5 940.1,300.5 941.1,295.5 942.1,292.4 943.1,295.5 944.1,297.5 945.1,290.4 946.1,285.4 947.1,283.4 948.1,279.4 949.1,275.4 950.1,272.3 951.1,269.3 952.1,266.3 953.1,264.3 954.1,263.3 955.2,262.3 956.2,262.3 957.2,261.3 958.2,262.3 959.2,263.3 960.2,262.3 961.2,264.3 962.2,266.3 963.2,268.3 964.2,270.3 965.2,273.3 966.2,275.4 967.2,276.4 968.2,274.3 969.2,277.4 970.2,279.4 971.2,277.4 972.3,278.4 973.3,279.4 974.3,280.4 975.3,279.4 976.3,281.4 977.3,280.4 978.3,281.4 979.3,283.4 980.3,284.4 981.3,285.4 982.3,279.4 983.3,272.3 984.3,267.3 985.3,265.3 986.3,266.3 987.3,268.3 988.3,267.3 989.4,268.3 990.4,267.3 991.4,268.3 992.4,271.3 993.4,285.4 994.4,300.5 995.4,299.5 996.4,289.4 997.4,273.3 998.4,277.4 999.4,281.4 1000.4,284.4 1001.4,284.4 1002.4,289.4 1003.4,284.4 1004.4,279.4 1005.4,275.4 1006.5,274.3 1007.5,272.3 1008.5,271.3 1009.5,270.3 1010.5,269.3 1011.5,268.3 1012.5,269.3 1013.5,268.3 1014.5,267.3 1015.5,268.3 1016.5,267.3 1017.5,266.3 1018.5,266.3 1019.5,265.3 1020.5,264.3 1021.5,265.3 1022.5,264.3 1023.6,263.3 1024.6,264.3 1025.6,265.3 1026.6,265.3 1027.6,266.3 1028.6,268.3 1029.6,267.3 1030.6,269.3 1031.6,268.3 1032.6,269.3 1033.6,270.3 1034.6,272.3 1035.6,274.3 1036.6,279.4 1037.6,280.4 1038.6,279.4 1039.6,277.4 1040.7,280.4 1041.7,279.4 1042.7,276.4 1043.7,274.3 1044.7,275.4 1045.7,276.4 1046.7,275.4 1047.7,276.4 1048.7,277.4 1049.7,275.4 1050.7,277.4 1051.7,278.4 1052.7,279.4 1053.7,279.4 1054.7,278.4 1055.7,278.4 1056.7,277.4 1057.7,276.4 1058.8,274.3 1059.8,272.3" fill="none" stroke="#000" stroke-width="3.1" stroke-linejoin="round" stroke-linecap="butt"/>
<polyline points="704.2,241.1 705.1,244.1 705.8,248.4 706.6,244.1 707.5,249.0 708.5,244.7 709.4,250.2 710.3,245.4 711.1,250.8 712.1,245.4 713.0,251.4 713.9,246.0 714.7,250.8 715.7,252.0 716.7,246.0 717.5,242.3 718.4,244.1 719.1,247.2 719.9,252.6 720.8,246.6 721.7,242.9 722.7,241.7 723.5,245.4 724.4,243.5 725.4,246.6 726.3,250.2 727.2,245.4 728.0,246.0 729.0,250.2 729.9,246.6 730.8,249.0 731.6,247.8 732.6,247.2 733.6,248.4 734.4,246.0 735.3,247.2 736.2,247.8 737.2,246.0 738.0,244.7 738.9,243.5 739.8,239.9 740.8,235.1 741.7,239.3 742.5,238.1 743.2,244.1 744.1,242.3 744.9,239.9 745.9,241.1 746.8,241.7 747.7,244.1 748.5,242.3 749.3,246.0 750.1,247.8 750.7,244.1 751.3,253.8 751.9,262.3 752.5,273.7 753.1,265.9 754.0,255.0 754.9,255.6 755.8,252.6 756.7,245.4 757.6,248.4 758.3,255.0 759.2,249.0 760.0,256.2 760.7,262.9 761.6,256.2 762.4,249.6 763.1,252.6 764.0,246.0 764.8,242.9 765.8,246.0 766.6,243.5 767.6,249.0 768.5,244.7 769.4,242.3 770.4,253.2 771.2,245.4 772.2,239.9 773.0,246.0 773.9,238.1 774.9,241.1 775.8,244.7 776.7,247.8 777.5,241.7 778.5,238.7 779.3,235.1 780.3,238.1 781.1,246.0 782.1,242.3 783.1,239.3 783.9,235.7 784.8,241.1 785.7,242.3 786.6,236.9 787.5,241.1 788.4,237.5 789.3,233.9 790.2,230.3 790.8,228.5 791.5,232.1 792.4,235.7 793.2,238.1 794.2,239.9 795.1,243.5 796.0,249.6 796.8,251.4 797.8,249.0 798.8,248.4 799.6,247.8 800.4,247.2 801.4,246.6 802.4,246.0 803.2,245.4 804.1,244.7 805.0,244.1 806.0,243.5 806.8,242.3 807.7,240.5 808.7,237.5 809.5,234.5 810.4,232.4 811.7,226.4 812.7,218.3 813.7,200.2 814.7,178.1 815.3,174.1 816.1,190.2 816.7,184.1 817.3,206.3 818.1,188.2 819.1,178.1 819.7,198.2" fill="none" stroke="#bc2020" stroke-width="2.5" stroke-linejoin="round" stroke-linecap="butt"/>
<polyline points="833.7,177.3 834.5,202.4 835.5,212.5 837.1,211.5 838.7,210.5 839.9,183.3 840.7,196.4 841.7,203.4 842.7,150.1 843.7,156.2 844.7,151.1 845.7,162.2 846.7,153.1 847.7,160.2 848.7,152.1 849.5,171.2 850.5,154.1 851.6,163.2 852.6,155.1 853.6,168.2 854.6,151.1 855.6,158.2 856.6,150.1 857.6,168.2 858.6,156.2 859.6,169.2 860.6,148.1 861.6,169.2 862.6,145.1 863.6,159.2 864.6,169.2 865.6,158.2 866.6,160.2 867.6,156.2 868.7,151.1 869.7,167.2 870.7,145.1 871.7,160.2 872.7,158.2 873.7,161.2 874.7,165.2 875.7,162.2 876.7,158.2 877.7,152.1 878.9,147.1 879.9,153.1 880.9,156.2 881.9,161.2 882.9,171.2 883.9,158.2 884.9,160.2 886.0,163.2 887.0,165.2 888.0,161.2 889.0,159.2 890.0,151.1 891.0,156.2 892.0,160.2 893.0,157.2 894.0,159.2 895.0,160.2 896.0,158.2 897.0,162.2 898.0,161.2 899.0,158.2 900.0,167.2 901.0,171.2 902.0,160.2 903.1,153.1 904.1,162.2 905.1,165.2 906.1,169.2 907.1,167.2 908.1,160.2 909.1,154.1 910.1,161.2 911.1,169.2 912.1,177.3 913.1,169.2 914.1,159.2 915.1,165.2 916.1,168.2 917.1,166.2 918.1,163.2 919.1,168.2 920.2,167.2 921.2,165.2 922.2,165.2 923.2,168.2 924.2,164.2 925.2,153.1 926.2,165.2 927.2,167.2 928.2,167.2 929.2,165.2 930.2,168.2 931.2,166.2 932.2,166.2 933.2,167.2 934.2,163.2 935.2,156.2 936.2,169.2 937.3,153.1 938.3,161.2 939.3,158.2 940.3,167.2 941.3,161.2 942.3,165.2 943.3,160.2 944.3,163.2 945.3,164.2 946.3,163.2 947.3,162.2 948.3,159.2 949.3,157.2 950.3,164.2 951.3,169.2 952.3,164.2 953.3,155.1 954.4,166.2 955.4,167.2 956.4,155.1 957.4,168.2 958.4,168.2 959.4,162.2 960.4,170.2 961.4,166.2 962.4,173.3 963.4,165.2 964.4,173.3 965.4,169.2 966.4,172.2 967.4,175.3 968.4,156.2 969.4,183.3 970.4,175.3 971.4,171.2 972.5,178.3 973.5,185.3 974.5,163.2 975.5,176.3 976.5,173.3 977.5,175.3 978.5,177.3 979.5,173.3 980.5,175.3 981.5,176.3 982.5,175.3 983.5,179.3 984.5,169.2 985.5,181.3 986.5,179.3 987.5,180.3 988.5,176.3 989.6,174.3 990.6,172.2 991.6,189.3 992.6,178.3 993.6,185.3 994.6,178.3 995.6,188.3 996.6,168.2 997.6,183.3 998.6,175.3 999.6,178.3 1000.6,173.3 1001.6,185.3 1002.6,178.3 1003.6,174.3 1004.6,182.3 1005.6,175.3 1006.7,178.3 1007.7,169.2 1008.7,175.3 1009.7,185.3 1010.7,176.3 1011.7,175.3 1012.7,179.3 1013.7,174.3 1014.7,173.3 1015.7,183.3 1016.7,179.3 1017.7,174.3 1018.7,166.2 1019.7,176.3 1020.7,175.3 1021.7,173.3 1022.7,177.3 1023.8,174.3 1024.8,170.2 1025.8,176.3 1026.8,179.3 1027.8,173.3 1028.8,175.3 1029.8,179.3 1030.8,178.3 1031.8,169.2 1032.8,181.3 1033.8,176.3 1034.8,167.2 1035.8,162.2 1036.8,165.2 1037.8,172.2 1038.8,159.2 1039.8,165.2 1040.9,180.3 1041.9,169.2 1042.9,167.2 1043.9,170.2 1044.9,163.2 1045.9,170.2 1046.9,177.3 1047.9,179.3 1048.9,179.3 1049.9,172.2 1050.9,170.2 1051.9,183.3 1052.9,187.3 1053.9,178.3 1054.9,182.3 1055.9,178.3 1056.9,184.3 1058.0,179.3 1059.0,177.3 1060.0,189.3" fill="none" stroke="#bc2020" stroke-width="2.9" stroke-linejoin="round" stroke-linecap="butt"/>
<polygon points="1214.1,139.1 1215.1,140.1 1216.1,147.2 1217.1,155.2 1218.1,145.1 1219.1,150.2 1220.1,147.2 1221.1,152.2 1222.1,154.2 1223.1,149.2 1224.1,151.2 1225.1,157.2 1226.1,153.2 1227.1,161.2 1228.1,158.2 1229.1,153.2 1230.1,155.2 1231.1,152.2 1232.2,158.2 1233.2,154.2 1234.2,148.2 1235.2,151.2 1236.2,158.2 1237.2,153.2 1238.2,151.2 1239.2,155.2 1240.2,152.2 1241.2,155.2 1242.2,168.3 1243.2,161.2 1244.2,154.2 1245.2,156.2 1246.2,164.2 1247.2,165.3 1248.2,157.2 1249.2,161.2 1250.3,156.2 1251.3,160.2 1252.3,164.2 1253.3,167.3 1254.3,163.2 1255.3,155.2 1256.3,156.2 1257.3,172.3 1258.3,164.2 1259.3,159.2 1260.3,168.3 1261.3,164.2 1262.3,163.2 1263.3,160.2 1264.3,165.3 1265.3,156.2 1266.3,160.2 1267.3,168.3 1268.4,159.2 1269.4,163.2 1270.4,167.3 1271.4,162.2 1272.4,173.3 1273.4,165.3 1274.4,156.2 1275.4,155.2 1276.4,160.2 1277.4,159.2 1278.4,168.3 1279.4,157.2 1280.4,163.2 1281.4,160.2 1282.4,168.3 1283.4,159.2 1284.4,164.2 1285.5,157.2 1286.5,162.2 1287.5,169.3 1288.5,160.2 1289.5,157.2 1290.5,166.3 1291.5,158.2 1292.5,167.3 1293.5,160.2 1294.5,157.2 1295.5,163.2 1296.5,169.3 1297.5,165.3 1298.5,159.2 1299.5,156.2 1300.5,153.2 1301.5,150.2 1302.5,146.1 1303.6,144.1 1304.6,145.1 1305.6,155.2 1306.6,150.2 1307.6,152.2 1308.6,151.2 1309.6,160.2 1310.6,154.2 1311.6,153.2 1312.6,158.2 1313.6,168.3 1314.6,159.2 1315.6,169.3 1316.6,163.2 1317.6,169.3 1318.6,160.2 1319.6,155.2 1320.6,158.2 1321.7,152.2 1322.7,146.1 1323.7,148.2 1324.7,154.2 1325.7,160.2 1326.7,172.3 1327.7,166.3 1328.7,158.2 1329.7,155.2 1330.7,153.2 1331.7,160.2 1332.7,147.2 1333.7,145.1 1334.7,148.2 1335.7,147.2 1336.7,141.1 1337.7,140.1 1338.7,148.2 1339.8,160.2 1340.8,174.3 1341.8,164.2 1342.8,155.2 1343.8,150.2 1344.8,153.2 1345.8,157.2 1346.8,163.2 1347.8,155.2 1348.8,152.2 1349.8,155.2 1350.8,152.2 1351.8,157.2 1352.8,168.3 1353.8,161.2 1354.8,156.2 1355.8,153.2 1356.9,152.2 1356.9,236.3 1355.8,239.3 1354.8,238.3 1353.8,240.3 1352.8,239.3 1351.8,241.3 1350.8,240.3 1349.8,242.3 1348.8,241.3 1347.8,240.3 1346.8,238.3 1345.8,239.3 1344.8,240.3 1343.8,237.3 1342.8,238.3 1341.8,239.3 1340.8,238.3 1339.8,235.3 1338.7,232.2 1337.7,229.2 1336.7,226.2 1335.7,227.2 1334.7,230.2 1333.7,232.2 1332.7,233.2 1331.7,231.2 1330.7,229.2 1329.7,230.2 1328.7,231.2 1327.7,232.2 1326.7,230.2 1325.7,228.2 1324.7,230.2 1323.7,232.2 1322.7,230.2 1321.7,229.2 1320.6,230.2 1319.6,232.2 1318.6,234.2 1317.6,235.3 1316.6,236.3 1315.6,238.3 1314.6,240.3 1313.6,241.3 1312.6,243.3 1311.6,242.3 1310.6,240.3 1309.6,239.3 1308.6,237.3 1307.6,238.3 1306.6,236.3 1305.6,235.3 1304.6,232.2 1303.6,233.2 1302.5,232.2 1301.5,230.2 1300.5,229.2 1299.5,238.3 1298.5,241.3 1297.5,239.3 1296.5,240.3 1295.5,238.3 1294.5,239.3 1293.5,236.3 1292.5,238.3 1291.5,240.3 1290.5,238.3 1289.5,239.3 1288.5,241.3 1287.5,240.3 1286.5,242.3 1285.5,241.3 1284.4,243.3 1283.4,242.3 1282.4,244.3 1281.4,243.3 1280.4,242.3 1279.4,243.3 1278.4,241.3 1277.4,240.3 1276.4,242.3 1275.4,241.3 1274.4,240.3 1273.4,242.3 1272.4,241.3 1271.4,239.3 1270.4,240.3 1269.4,242.3 1268.4,241.3 1267.3,240.3 1266.3,238.3 1265.3,239.3 1264.3,241.3 1263.3,242.3 1262.3,240.3 1261.3,241.3 1260.3,242.3 1259.3,243.3 1258.3,242.3 1257.3,240.3 1256.3,241.3 1255.3,240.3 1254.3,241.3 1253.3,239.3 1252.3,240.3 1251.3,239.3 1250.3,240.3 1249.2,238.3 1248.2,239.3 1247.2,240.3 1246.2,238.3 1245.2,239.3 1244.2,238.3 1243.2,236.3 1242.2,237.3 1241.2,234.2 1240.2,236.3 1239.2,235.3 1238.2,233.2 1237.2,229.2 1236.2,230.2 1235.2,233.2 1234.2,232.2 1233.2,230.2 1232.2,228.2 1231.1,232.2 1230.1,233.2 1229.1,231.2 1228.1,233.2 1227.1,232.2 1226.1,234.2 1225.1,232.2 1224.1,233.2 1223.1,234.2 1222.1,232.2 1221.1,234.2 1220.1,233.2 1219.1,234.2 1218.1,232.2 1217.1,233.2 1216.1,232.2 1215.1,231.2 1214.1,229.2" fill="#d9d9d9" stroke="none"/>
<polygon points="1370.1,134.2 1371.1,140.2 1372.1,150.3 1373.1,162.3 1374.1,164.4 1375.1,163.4 1376.1,168.4 1377.1,180.5 1378.1,183.5 1379.1,179.4 1380.1,174.4 1381.1,171.4 1382.1,169.4 1383.1,167.4 1384.1,166.4 1385.1,170.4 1386.1,169.4 1387.2,173.4 1388.2,175.4 1389.2,172.4 1390.2,169.4 1391.2,166.4 1392.2,160.3 1393.2,154.3 1394.2,157.3 1395.2,154.3 1396.2,158.3 1397.2,152.3 1398.2,149.3 1399.2,153.3 1400.2,150.3 1401.2,156.3 1402.2,149.3 1403.2,146.3 1404.2,146.3 1405.3,147.3 1406.3,140.2 1407.3,137.2 1408.3,133.2 1409.3,135.2 1410.3,142.2 1411.3,154.3 1412.3,148.3 1413.3,150.3 1414.3,153.3 1415.3,150.3 1416.3,155.3 1417.3,159.3 1418.3,164.4 1419.3,167.4 1420.3,164.4 1421.3,160.3 1422.3,154.3 1423.4,152.3 1424.4,156.3 1425.4,164.4 1426.4,168.4 1427.4,177.4 1428.4,171.4 1429.4,166.4 1430.4,160.3 1431.4,158.3 1432.4,158.3 1433.4,161.3 1434.4,156.3 1435.4,150.3 1436.4,145.3 1437.4,149.3 1438.4,155.3 1439.4,154.3 1440.5,152.3 1441.5,147.3 1442.5,145.3 1443.5,149.3 1444.5,153.3 1445.5,150.3 1446.5,146.3 1447.5,147.3 1448.5,151.3 1449.5,153.3 1450.5,155.3 1451.5,158.3 1452.5,152.3 1453.5,153.3 1454.5,156.3 1455.5,154.3 1456.5,159.3 1457.5,156.3 1458.6,162.3 1459.6,165.4 1460.6,160.3 1461.6,153.3 1462.6,151.3 1463.6,156.3 1464.6,154.3 1465.6,158.3 1466.6,155.3 1467.6,153.3 1468.6,158.3 1469.6,171.4 1470.6,163.4 1471.6,154.3 1472.6,148.3 1473.6,147.3 1474.6,154.3 1475.6,172.4 1476.7,175.4 1477.7,174.4 1478.7,168.4 1479.7,156.3 1480.7,144.2 1481.7,135.2 1482.7,131.2 1483.7,132.2 1484.7,142.2 1485.7,133.2 1486.7,135.2 1487.7,140.2 1488.7,137.2 1489.7,137.2 1490.7,142.2 1491.7,140.2 1492.7,143.2 1493.7,139.2 1494.8,144.2 1495.8,146.3 1496.8,138.2 1497.8,140.2 1498.8,149.3 1499.8,154.3 1500.8,152.3 1501.8,155.3 1502.8,166.4 1503.8,182.5 1504.8,175.4 1505.8,172.4 1506.8,171.4 1507.8,174.4 1508.8,179.4 1509.8,172.4 1511.3,162.4 1512.3,160.4 1513.3,164.4 1514.3,168.4 1515.3,164.4 1516.3,160.4 1517.3,162.4 1518.3,164.4 1519.3,166.4 1520.3,162.4 1521.3,160.4 1522.3,152.3 1523.3,149.3 1524.3,154.3 1525.4,151.3 1526.4,153.3 1527.4,148.3 1528.4,150.3 1529.4,147.3 1530.4,149.3 1531.4,150.3 1532.4,144.3 1533.4,140.3 1534.4,143.3 1535.4,146.3 1536.4,142.3 1537.4,139.3 1538.4,137.2 1539.4,138.2 1540.5,133.2 1541.5,130.2 1542.5,127.2 1543.5,130.2 1544.5,135.2 1545.5,130.2 1546.5,125.2 1547.5,127.2 1548.5,134.2 1549.5,140.3 1550.5,135.2 1551.5,127.2 1552.5,125.2 1553.5,132.2 1554.5,135.2 1555.5,132.2 1556.6,126.2 1557.6,125.2 1558.6,132.2 1559.6,136.2 1560.6,133.2 1561.6,135.2 1562.6,132.2 1563.6,140.3 1564.6,148.3 1565.6,157.4 1566.6,155.4 1567.6,147.3 1568.6,142.3 1569.6,137.2 1570.6,140.3 1571.7,149.3 1572.7,151.3 1573.7,144.3 1574.7,140.3 1575.7,137.2 1576.7,131.2 1577.7,127.2 1578.7,130.2 1579.7,140.3 1580.7,148.3 1581.7,145.3 1582.7,139.3 1583.7,133.2 1584.7,134.2 1585.7,136.2 1586.7,141.3 1587.8,142.3 1588.8,134.2 1589.8,139.3 1590.8,132.2 1591.8,135.2 1592.8,142.3 1593.8,147.3 1594.8,139.3 1595.8,129.2 1596.8,125.2 1597.8,124.2 1598.8,128.2 1599.8,130.2 1600.8,124.2 1601.8,120.1 1602.9,122.1 1603.9,130.2 1604.9,138.2 1605.9,152.3 1606.9,144.3 1607.9,137.2 1608.9,136.2 1609.9,139.3 1610.9,141.3 1611.9,142.3 1612.9,140.3 1613.9,141.3 1614.9,148.3 1615.9,145.3 1616.9,143.3 1617.9,138.2 1619.0,136.2 1620.0,144.3 1621.0,150.3 1622.0,146.3 1623.0,137.2 1624.0,133.2 1625.0,134.2 1626.0,147.3 1627.0,142.3 1628.0,138.2 1629.0,130.2 1630.0,132.2 1631.0,142.3 1632.0,145.3 1633.0,144.3 1634.0,142.3 1635.1,147.3 1636.1,155.4 1637.1,157.4 1638.1,155.4 1639.1,159.4 1640.1,154.3 1641.1,149.3 1642.1,144.3 1643.1,143.3 1644.1,148.3 1645.1,145.3 1646.1,138.2 1647.1,139.3 1647.1,215.2 1646.1,213.2 1645.1,210.2 1644.1,218.2 1643.1,222.3 1642.1,226.3 1641.1,222.3 1640.1,224.3 1639.1,230.3 1638.1,236.4 1637.1,232.3 1636.1,226.3 1635.1,222.3 1634.0,220.3 1633.0,217.2 1632.0,215.2 1631.0,212.2 1630.0,210.2 1629.0,211.2 1628.0,213.2 1627.0,215.2 1626.0,220.3 1625.0,217.2 1624.0,212.2 1623.0,213.2 1622.0,214.2 1621.0,212.2 1620.0,214.2 1619.0,213.2 1617.9,215.2 1616.9,214.2 1615.9,216.2 1614.9,220.3 1613.9,223.3 1612.9,222.3 1611.9,219.3 1610.9,217.2 1609.9,215.2 1608.9,212.2 1607.9,214.2 1606.9,216.2 1605.9,213.2 1604.9,212.2 1603.9,210.2 1602.9,204.2 1601.8,200.1 1600.8,198.1 1599.8,200.1 1598.8,204.2 1597.8,202.1 1596.8,201.1 1595.8,204.2 1594.8,206.2 1593.8,207.2 1592.8,209.2 1591.8,211.2 1590.8,208.2 1589.8,212.2 1588.8,214.2 1587.8,216.2 1586.7,219.3 1585.7,212.2 1584.7,207.2 1583.7,208.2 1582.7,213.2 1581.7,217.2 1580.7,219.3 1579.7,215.2 1578.7,213.2 1577.7,214.2 1576.7,212.2 1575.7,213.2 1574.7,209.2 1573.7,215.2 1572.7,213.2 1571.7,217.2 1570.6,214.2 1569.6,215.2 1568.6,217.2 1567.6,215.2 1566.6,216.2 1565.6,218.2 1564.6,215.2 1563.6,217.2 1562.6,220.3 1561.6,212.2 1560.6,209.2 1559.6,207.2 1558.6,208.2 1557.6,209.2 1556.6,207.2 1555.5,208.2 1554.5,207.2 1553.5,206.2 1552.5,208.2 1551.5,212.2 1550.5,213.2 1549.5,213.2 1548.5,212.2 1547.5,211.2 1546.5,212.2 1545.5,211.2 1544.5,210.2 1543.5,208.2 1542.5,207.2 1541.5,206.2 1540.5,207.2 1539.4,209.2 1538.4,210.2 1537.4,211.2 1536.4,212.2 1535.4,211.2 1534.4,213.2 1533.4,212.2 1532.4,213.2 1531.4,212.2 1530.4,214.2 1529.4,213.2 1528.4,214.2 1527.4,216.2 1526.4,220.3 1525.4,218.2 1524.3,217.2 1523.3,219.3 1522.3,221.3 1521.3,223.3 1520.3,225.3 1519.3,228.3 1518.3,229.3 1517.3,232.3 1516.3,230.3 1515.3,231.3 1514.3,229.3 1513.3,230.3 1512.3,228.3 1511.3,229.3 1509.8,235.3 1508.8,237.3 1507.8,238.3 1506.8,236.3 1505.8,237.3 1504.8,236.3 1503.8,234.3 1502.8,235.3 1501.8,233.3 1500.8,230.3 1499.8,224.2 1498.8,219.2 1497.8,216.2 1496.8,217.2 1495.8,215.2 1494.8,218.2 1493.7,216.2 1492.7,217.2 1491.7,219.2 1490.7,217.2 1489.7,215.2 1488.7,214.2 1487.7,213.2 1486.7,212.2 1485.7,211.2 1484.7,209.2 1483.7,210.2 1482.7,209.2 1481.7,209.2 1480.7,211.2 1479.7,214.2 1478.7,220.2 1477.7,230.3 1476.7,244.4 1475.6,246.4 1474.6,236.3 1473.6,218.2 1472.6,212.2 1471.6,213.2 1470.6,219.2 1469.6,231.3 1468.6,234.3 1467.6,233.3 1466.6,227.3 1465.6,224.2 1464.6,222.2 1463.6,223.2 1462.6,223.2 1461.6,224.2 1460.6,225.3 1459.6,226.3 1458.6,229.3 1457.5,230.3 1456.5,227.3 1455.5,225.3 1454.5,223.2 1453.5,225.3 1452.5,228.3 1451.5,225.3 1450.5,223.2 1449.5,227.3 1448.5,224.2 1447.5,225.3 1446.5,224.2 1445.5,222.2 1444.5,222.2 1443.5,223.2 1442.5,224.2 1441.5,226.3 1440.5,228.3 1439.4,230.3 1438.4,233.3 1437.4,236.3 1436.4,238.3 1435.4,231.3 1434.4,228.3 1433.4,229.3 1432.4,237.3 1431.4,246.4 1430.4,236.3 1429.4,227.3 1428.4,229.3 1427.4,240.3 1426.4,253.4 1425.4,244.4 1424.4,236.3 1423.4,230.3 1422.3,226.3 1421.3,224.2 1420.3,229.3 1419.3,240.3 1418.3,250.4 1417.3,232.3 1416.3,224.2 1415.3,221.2 1414.3,219.2 1413.3,218.2 1412.3,219.2 1411.3,217.2 1410.3,213.2 1409.3,208.2 1408.3,205.1 1407.3,204.1 1406.3,205.1 1405.3,207.2 1404.2,208.2 1403.2,212.2 1402.2,217.2 1401.2,218.2 1400.2,219.2 1399.2,221.2 1398.2,223.2 1397.2,221.2 1396.2,222.2 1395.2,223.2 1394.2,226.3 1393.2,225.3 1392.2,226.3 1391.2,228.3 1390.2,231.3 1389.2,237.3 1388.2,236.3 1387.2,234.3 1386.1,234.3 1385.1,237.3 1384.1,235.3 1383.1,237.3 1382.1,240.3 1381.1,238.3 1380.1,240.3 1379.1,246.4 1378.1,248.4 1377.1,251.4 1376.1,252.4 1375.1,250.4 1374.1,247.4 1373.1,244.4 1372.1,241.3 1371.1,238.3 1370.1,228.3" fill="#d9d9d9" stroke="none"/>
<polyline points="1214.1,139.1 1215.1,140.1 1216.1,147.2 1217.1,155.2 1218.1,145.1 1219.1,150.2 1220.1,147.2 1221.1,152.2 1222.1,154.2 1223.1,149.2 1224.1,151.2 1225.1,157.2 1226.1,153.2 1227.1,161.2 1228.1,158.2 1229.1,153.2 1230.1,155.2 1231.1,152.2 1232.2,158.2 1233.2,154.2 1234.2,148.2 1235.2,151.2 1236.2,158.2 1237.2,153.2 1238.2,151.2 1239.2,155.2 1240.2,152.2 1241.2,155.2 1242.2,168.3 1243.2,161.2 1244.2,154.2 1245.2,156.2 1246.2,164.2 1247.2,165.3 1248.2,157.2 1249.2,161.2 1250.3,156.2 1251.3,160.2 1252.3,164.2 1253.3,167.3 1254.3,163.2 1255.3,155.2 1256.3,156.2 1257.3,172.3 1258.3,164.2 1259.3,159.2 1260.3,168.3 1261.3,164.2 1262.3,163.2 1263.3,160.2 1264.3,165.3 1265.3,156.2 1266.3,160.2 1267.3,168.3 1268.4,159.2 1269.4,163.2 1270.4,167.3 1271.4,162.2 1272.4,173.3 1273.4,165.3 1274.4,156.2 1275.4,155.2 1276.4,160.2 1277.4,159.2 1278.4,168.3 1279.4,157.2 1280.4,163.2 1281.4,160.2 1282.4,168.3 1283.4,159.2 1284.4,164.2 1285.5,157.2 1286.5,162.2 1287.5,169.3 1288.5,160.2 1289.5,157.2 1290.5,166.3 1291.5,158.2 1292.5,167.3 1293.5,160.2 1294.5,157.2 1295.5,163.2 1296.5,169.3 1297.5,165.3 1298.5,159.2 1299.5,156.2 1300.5,153.2 1301.5,150.2 1302.5,146.1 1303.6,144.1 1304.6,145.1 1305.6,155.2 1306.6,150.2 1307.6,152.2 1308.6,151.2 1309.6,160.2 1310.6,154.2 1311.6,153.2 1312.6,158.2 1313.6,168.3 1314.6,159.2 1315.6,169.3 1316.6,163.2 1317.6,169.3 1318.6,160.2 1319.6,155.2 1320.6,158.2 1321.7,152.2 1322.7,146.1 1323.7,148.2 1324.7,154.2 1325.7,160.2 1326.7,172.3 1327.7,166.3 1328.7,158.2 1329.7,155.2 1330.7,153.2 1331.7,160.2 1332.7,147.2 1333.7,145.1 1334.7,148.2 1335.7,147.2 1336.7,141.1 1337.7,140.1 1338.7,148.2 1339.8,160.2 1340.8,174.3 1341.8,164.2 1342.8,155.2 1343.8,150.2 1344.8,153.2 1345.8,157.2 1346.8,163.2 1347.8,155.2 1348.8,152.2 1349.8,155.2 1350.8,152.2 1351.8,157.2 1352.8,168.3 1353.8,161.2 1354.8,156.2 1355.8,153.2 1356.9,152.2" fill="none" stroke="#000" stroke-width="3.1" stroke-linejoin="round" stroke-linecap="butt"/>
<polyline points="1214.1,229.2 1215.1,231.2 1216.1,232.2 1217.1,233.2 1218.1,232.2 1219.1,234.2 1220.1,233.2 1221.1,234.2 1222.1,232.2 1223.1,234.2 1224.1,233.2 1225.1,232.2 1226.1,234.2 1227.1,232.2 1228.1,233.2 1229.1,231.2 1230.1,233.2 1231.1,232.2 1232.2,228.2 1233.2,230.2 1234.2,232.2 1235.2,233.2 1236.2,230.2 1237.2,229.2 1238.2,233.2 1239.2,235.3 1240.2,236.3 1241.2,234.2 1242.2,237.3 1243.2,236.3 1244.2,238.3 1245.2,239.3 1246.2,238.3 1247.2,240.3 1248.2,239.3 1249.2,238.3 1250.3,240.3 1251.3,239.3 1252.3,240.3 1253.3,239.3 1254.3,241.3 1255.3,240.3 1256.3,241.3 1257.3,240.3 1258.3,242.3 1259.3,243.3 1260.3,242.3 1261.3,241.3 1262.3,240.3 1263.3,242.3 1264.3,241.3 1265.3,239.3 1266.3,238.3 1267.3,240.3 1268.4,241.3 1269.4,242.3 1270.4,240.3 1271.4,239.3 1272.4,241.3 1273.4,242.3 1274.4,240.3 1275.4,241.3 1276.4,242.3 1277.4,240.3 1278.4,241.3 1279.4,243.3 1280.4,242.3 1281.4,243.3 1282.4,244.3 1283.4,242.3 1284.4,243.3 1285.5,241.3 1286.5,242.3 1287.5,240.3 1288.5,241.3 1289.5,239.3 1290.5,238.3 1291.5,240.3 1292.5,238.3 1293.5,236.3 1294.5,239.3 1295.5,238.3 1296.5,240.3 1297.5,239.3 1298.5,241.3 1299.5,238.3 1300.5,229.2 1301.5,230.2 1302.5,232.2 1303.6,233.2 1304.6,232.2 1305.6,235.3 1306.6,236.3 1307.6,238.3 1308.6,237.3 1309.6,239.3 1310.6,240.3 1311.6,242.3 1312.6,243.3 1313.6,241.3 1314.6,240.3 1315.6,238.3 1316.6,236.3 1317.6,235.3 1318.6,234.2 1319.6,232.2 1320.6,230.2 1321.7,229.2 1322.7,230.2 1323.7,232.2 1324.7,230.2 1325.7,228.2 1326.7,230.2 1327.7,232.2 1328.7,231.2 1329.7,230.2 1330.7,229.2 1331.7,231.2 1332.7,233.2 1333.7,232.2 1334.7,230.2 1335.7,227.2 1336.7,226.2 1337.7,229.2 1338.7,232.2 1339.8,235.3 1340.8,238.3 1341.8,239.3 1342.8,238.3 1343.8,237.3 1344.8,240.3 1345.8,239.3 1346.8,238.3 1347.8,240.3 1348.8,241.3 1349.8,242.3 1350.8,240.3 1351.8,241.3 1352.8,239.3 1353.8,240.3 1354.8,238.3 1355.8,239.3 1356.9,236.3" fill="none" stroke="#000" stroke-width="3.1" stroke-linejoin="round" stroke-linecap="butt"/>
<polyline points="1370.1,134.2 1371.1,140.2 1372.1,150.3 1373.1,162.3 1374.1,164.4 1375.1,163.4 1376.1,168.4 1377.1,180.5 1378.1,183.5 1379.1,179.4 1380.1,174.4 1381.1,171.4 1382.1,169.4 1383.1,167.4 1384.1,166.4 1385.1,170.4 1386.1,169.4 1387.2,173.4 1388.2,175.4 1389.2,172.4 1390.2,169.4 1391.2,166.4 1392.2,160.3 1393.2,154.3 1394.2,157.3 1395.2,154.3 1396.2,158.3 1397.2,152.3 1398.2,149.3 1399.2,153.3 1400.2,150.3 1401.2,156.3 1402.2,149.3 1403.2,146.3 1404.2,146.3 1405.3,147.3 1406.3,140.2 1407.3,137.2 1408.3,133.2 1409.3,135.2 1410.3,142.2 1411.3,154.3 1412.3,148.3 1413.3,150.3 1414.3,153.3 1415.3,150.3 1416.3,155.3 1417.3,159.3 1418.3,164.4 1419.3,167.4 1420.3,164.4 1421.3,160.3 1422.3,154.3 1423.4,152.3 1424.4,156.3 1425.4,164.4 1426.4,168.4 1427.4,177.4 1428.4,171.4 1429.4,166.4 1430.4,160.3 1431.4,158.3 1432.4,158.3 1433.4,161.3 1434.4,156.3 1435.4,150.3 1436.4,145.3 1437.4,149.3 1438.4,155.3 1439.4,154.3 1440.5,152.3 1441.5,147.3 1442.5,145.3 1443.5,149.3 1444.5,153.3 1445.5,150.3 1446.5,146.3 1447.5,147.3 1448.5,151.3 1449.5,153.3 1450.5,155.3 1451.5,158.3 1452.5,152.3 1453.5,153.3 1454.5,156.3 1455.5,154.3 1456.5,159.3 1457.5,156.3 1458.6,162.3 1459.6,165.4 1460.6,160.3 1461.6,153.3 1462.6,151.3 1463.6,156.3 1464.6,154.3 1465.6,158.3 1466.6,155.3 1467.6,153.3 1468.6,158.3 1469.6,171.4 1470.6,163.4 1471.6,154.3 1472.6,148.3 1473.6,147.3 1474.6,154.3 1475.6,172.4 1476.7,175.4 1477.7,174.4 1478.7,168.4 1479.7,156.3 1480.7,144.2 1481.7,135.2 1482.7,131.2 1483.7,132.2 1484.7,142.2 1485.7,133.2 1486.7,135.2 1487.7,140.2 1488.7,137.2 1489.7,137.2 1490.7,142.2 1491.7,140.2 1492.7,143.2 1493.7,139.2 1494.8,144.2 1495.8,146.3 1496.8,138.2 1497.8,140.2 1498.8,149.3 1499.8,154.3 1500.8,152.3 1501.8,155.3 1502.8,166.4 1503.8,182.5 1504.8,175.4 1505.8,172.4 1506.8,171.4 1507.8,174.4 1508.8,179.4 1509.8,172.4 1511.3,162.4 1512.3,160.4 1513.3,164.4 1514.3,168.4 1515.3,164.4 1516.3,160.4 1517.3,162.4 1518.3,164.4 1519.3,166.4 1520.3,162.4 1521.3,160.4 1522.3,152.3 1523.3,149.3 1524.3,154.3 1525.4,151.3 1526.4,153.3 1527.4,148.3 1528.4,150.3 1529.4,147.3 1530.4,149.3 1531.4,150.3 1532.4,144.3 1533.4,140.3 1534.4,143.3 1535.4,146.3 1536.4,142.3 1537.4,139.3 1538.4,137.2 1539.4,138.2 1540.5,133.2 1541.5,130.2 1542.5,127.2 1543.5,130.2 1544.5,135.2 1545.5,130.2 1546.5,125.2 1547.5,127.2 1548.5,134.2 1549.5,140.3 1550.5,135.2 1551.5,127.2 1552.5,125.2 1553.5,132.2 1554.5,135.2 1555.5,132.2 1556.6,126.2 1557.6,125.2 1558.6,132.2 1559.6,136.2 1560.6,133.2 1561.6,135.2 1562.6,132.2 1563.6,140.3 1564.6,148.3 1565.6,157.4 1566.6,155.4 1567.6,147.3 1568.6,142.3 1569.6,137.2 1570.6,140.3 1571.7,149.3 1572.7,151.3 1573.7,144.3 1574.7,140.3 1575.7,137.2 1576.7,131.2 1577.7,127.2 1578.7,130.2 1579.7,140.3 1580.7,148.3 1581.7,145.3 1582.7,139.3 1583.7,133.2 1584.7,134.2 1585.7,136.2 1586.7,141.3 1587.8,142.3 1588.8,134.2 1589.8,139.3 1590.8,132.2 1591.8,135.2 1592.8,142.3 1593.8,147.3 1594.8,139.3 1595.8,129.2 1596.8,125.2 1597.8,124.2 1598.8,128.2 1599.8,130.2 1600.8,124.2 1601.8,120.1 1602.9,122.1 1603.9,130.2 1604.9,138.2 1605.9,152.3 1606.9,144.3 1607.9,137.2 1608.9,136.2 1609.9,139.3 1610.9,141.3 1611.9,142.3 1612.9,140.3 1613.9,141.3 1614.9,148.3 1615.9,145.3 1616.9,143.3 1617.9,138.2 1619.0,136.2 1620.0,144.3 1621.0,150.3 1622.0,146.3 1623.0,137.2 1624.0,133.2 1625.0,134.2 1626.0,147.3 1627.0,142.3 1628.0,138.2 1629.0,130.2 1630.0,132.2 1631.0,142.3 1632.0,145.3 1633.0,144.3 1634.0,142.3 1635.1,147.3 1636.1,155.4 1637.1,157.4 1638.1,155.4 1639.1,159.4 1640.1,154.3 1641.1,149.3 1642.1,144.3 1643.1,143.3 1644.1,148.3 1645.1,145.3 1646.1,138.2 1647.1,139.3" fill="none" stroke="#000" stroke-width="3.1" stroke-linejoin="round" stroke-linecap="butt"/>
<polyline points="1370.1,228.3 1371.1,238.3 1372.1,241.3 1373.1,244.4 1374.1,247.4 1375.1,250.4 1376.1,252.4 1377.1,251.4 1378.1,248.4 1379.1,246.4 1380.1,240.3 1381.1,238.3 1382.1,240.3 1383.1,237.3 1384.1,235.3 1385.1,237.3 1386.1,234.3 1387.2,234.3 1388.2,236.3 1389.2,237.3 1390.2,231.3 1391.2,228.3 1392.2,226.3 1393.2,225.3 1394.2,226.3 1395.2,223.2 1396.2,222.2 1397.2,221.2 1398.2,223.2 1399.2,221.2 1400.2,219.2 1401.2,218.2 1402.2,217.2 1403.2,212.2 1404.2,208.2 1405.3,207.2 1406.3,205.1 1407.3,204.1 1408.3,205.1 1409.3,208.2 1410.3,213.2 1411.3,217.2 1412.3,219.2 1413.3,218.2 1414.3,219.2 1415.3,221.2 1416.3,224.2 1417.3,232.3 1418.3,250.4 1419.3,240.3 1420.3,229.3 1421.3,224.2 1422.3,226.3 1423.4,230.3 1424.4,236.3 1425.4,244.4 1426.4,253.4 1427.4,240.3 1428.4,229.3 1429.4,227.3 1430.4,236.3 1431.4,246.4 1432.4,237.3 1433.4,229.3 1434.4,228.3 1435.4,231.3 1436.4,238.3 1437.4,236.3 1438.4,233.3 1439.4,230.3 1440.5,228.3 1441.5,226.3 1442.5,224.2 1443.5,223.2 1444.5,222.2 1445.5,222.2 1446.5,224.2 1447.5,225.3 1448.5,224.2 1449.5,227.3 1450.5,223.2 1451.5,225.3 1452.5,228.3 1453.5,225.3 1454.5,223.2 1455.5,225.3 1456.5,227.3 1457.5,230.3 1458.6,229.3 1459.6,226.3 1460.6,225.3 1461.6,224.2 1462.6,223.2 1463.6,223.2 1464.6,222.2 1465.6,224.2 1466.6,227.3 1467.6,233.3 1468.6,234.3 1469.6,231.3 1470.6,219.2 1471.6,213.2 1472.6,212.2 1473.6,218.2 1474.6,236.3 1475.6,246.4 1476.7,244.4 1477.7,230.3 1478.7,220.2 1479.7,214.2 1480.7,211.2 1481.7,209.2 1482.7,209.2 1483.7,210.2 1484.7,209.2 1485.7,211.2 1486.7,212.2 1487.7,213.2 1488.7,214.2 1489.7,215.2 1490.7,217.2 1491.7,219.2 1492.7,217.2 1493.7,216.2 1494.8,218.2 1495.8,215.2 1496.8,217.2 1497.8,216.2 1498.8,219.2 1499.8,224.2 1500.8,230.3 1501.8,233.3 1502.8,235.3 1503.8,234.3 1504.8,236.3 1505.8,237.3 1506.8,236.3 1507.8,238.3 1508.8,237.3 1509.8,235.3 1511.3,229.3 1512.3,228.3 1513.3,230.3 1514.3,229.3 1515.3,231.3 1516.3,230.3 1517.3,232.3 1518.3,229.3 1519.3,228.3 1520.3,225.3 1521.3,223.3 1522.3,221.3 1523.3,219.3 1524.3,217.2 1525.4,218.2 1526.4,220.3 1527.4,216.2 1528.4,214.2 1529.4,213.2 1530.4,214.2 1531.4,212.2 1532.4,213.2 1533.4,212.2 1534.4,213.2 1535.4,211.2 1536.4,212.2 1537.4,211.2 1538.4,210.2 1539.4,209.2 1540.5,207.2 1541.5,206.2 1542.5,207.2 1543.5,208.2 1544.5,210.2 1545.5,211.2 1546.5,212.2 1547.5,211.2 1548.5,212.2 1549.5,213.2 1550.5,213.2 1551.5,212.2 1552.5,208.2 1553.5,206.2 1554.5,207.2 1555.5,208.2 1556.6,207.2 1557.6,209.2 1558.6,208.2 1559.6,207.2 1560.6,209.2 1561.6,212.2 1562.6,220.3 1563.6,217.2 1564.6,215.2 1565.6,218.2 1566.6,216.2 1567.6,215.2 1568.6,217.2 1569.6,215.2 1570.6,214.2 1571.7,217.2 1572.7,213.2 1573.7,215.2 1574.7,209.2 1575.7,213.2 1576.7,212.2 1577.7,214.2 1578.7,213.2 1579.7,215.2 1580.7,219.3 1581.7,217.2 1582.7,213.2 1583.7,208.2 1584.7,207.2 1585.7,212.2 1586.7,219.3 1587.8,216.2 1588.8,214.2 1589.8,212.2 1590.8,208.2 1591.8,211.2 1592.8,209.2 1593.8,207.2 1594.8,206.2 1595.8,204.2 1596.8,201.1 1597.8,202.1 1598.8,204.2 1599.8,200.1 1600.8,198.1 1601.8,200.1 1602.9,204.2 1603.9,210.2 1604.9,212.2 1605.9,213.2 1606.9,216.2 1607.9,214.2 1608.9,212.2 1609.9,215.2 1610.9,217.2 1611.9,219.3 1612.9,222.3 1613.9,223.3 1614.9,220.3 1615.9,216.2 1616.9,214.2 1617.9,215.2 1619.0,213.2 1620.0,214.2 1621.0,212.2 1622.0,214.2 1623.0,213.2 1624.0,212.2 1625.0,217.2 1626.0,220.3 1627.0,215.2 1628.0,213.2 1629.0,211.2 1630.0,210.2 1631.0,212.2 1632.0,215.2 1633.0,217.2 1634.0,220.3 1635.1,222.3 1636.1,226.3 1637.1,232.3 1638.1,236.4 1639.1,230.3 1640.1,224.3 1641.1,222.3 1642.1,226.3 1643.1,222.3 1644.1,218.2 1645.1,210.2 1646.1,213.2 1647.1,215.2" fill="none" stroke="#000" stroke-width="3.1" stroke-linejoin="round" stroke-linecap="butt"/>
<polyline points="1214.1,249.3 1215.1,248.3 1216.1,248.3 1217.1,247.3 1218.1,246.3 1219.1,244.3 1220.1,242.3 1221.1,243.3 1222.1,241.3 1223.1,242.3 1224.1,240.3 1225.1,247.3 1226.1,238.3 1227.1,239.3 1228.1,240.3 1229.1,236.3 1230.1,239.3 1231.1,237.3 1232.2,240.3 1233.2,236.3 1234.2,240.3 1235.2,244.3 1236.2,236.3 1237.2,235.3 1238.2,239.3 1239.2,242.3 1240.2,247.3 1241.2,238.3 1242.2,237.3 1243.2,235.3 1244.2,239.3 1245.2,236.3 1246.2,234.2 1247.2,230.2 1248.2,229.2 1249.2,237.3 1250.3,234.2 1251.3,231.2 1252.3,233.2 1253.3,238.3 1254.3,235.3 1255.3,231.2 1256.3,238.3 1257.3,232.2 1258.3,239.3 1259.3,237.3 1260.3,239.3 1261.3,238.3 1262.3,235.3 1263.3,239.3 1264.3,242.3 1265.3,250.3 1266.3,245.3 1267.3,241.3 1268.4,249.3 1269.4,243.3 1270.4,248.3 1271.4,245.3 1272.4,235.3 1273.4,239.3 1274.4,248.3 1275.4,242.3 1276.4,244.3 1277.4,247.3 1278.4,241.3 1279.4,246.3 1280.4,244.3 1281.4,250.3 1282.4,243.3 1283.4,238.3 1284.4,244.3 1285.5,238.3 1286.5,242.3 1287.5,238.3 1288.5,240.3 1289.5,238.3 1290.5,237.3 1291.5,232.2 1292.5,234.2 1293.5,231.2 1294.5,236.3 1295.5,237.3 1296.5,228.2 1297.5,227.2 1298.5,225.2 1299.5,222.2 1300.5,227.2 1301.5,238.3 1302.5,243.3 1303.6,247.3 1304.6,250.3 1305.6,249.3 1306.6,252.3 1307.6,259.4 1308.6,254.4 1309.6,251.3 1310.6,255.4 1311.6,254.4 1312.6,252.3 1313.6,251.3 1314.6,248.3 1315.6,244.3 1316.6,241.3 1317.6,238.3 1318.6,235.3 1319.6,230.2 1320.6,229.2 1321.7,234.2 1322.7,238.3 1323.7,233.2 1324.7,239.3 1325.7,232.2 1326.7,226.2 1327.7,229.2 1328.7,238.3 1329.7,227.2 1330.7,230.2 1331.7,232.2 1332.7,235.3 1333.7,242.3 1334.7,244.3 1335.7,243.3 1336.7,246.3 1337.7,244.3 1338.7,252.3 1339.8,247.3 1340.8,243.3 1341.8,240.3 1342.8,242.3 1343.8,244.3 1344.8,247.3 1345.8,246.3 1346.8,248.3 1347.8,250.3 1348.8,246.3 1349.8,250.3 1350.8,254.4 1351.8,250.3 1352.8,247.3 1353.8,244.3 1354.8,243.3 1355.8,242.3 1356.9,244.3" fill="none" stroke="#bc2020" stroke-width="2.7" stroke-linejoin="round" stroke-linecap="butt"/>
<polyline points="1370.5,193.5 1371.0,191.1 1371.5,186.5 1372.0,181.4 1372.5,180.5 1373.0,181.4 1373.5,178.4 1374.0,179.2 1374.5,182.5 1375.0,181.5 1375.5,177.4 1376.0,173.4 1376.5,172.4 1377.0,176.2 1377.5,176.4 1378.0,171.4 1378.5,170.4 1379.0,173.5 1379.5,174.4 1380.0,170.9 1380.5,169.4 1381.0,174.4 1381.5,175.4 1382.0,170.4 1382.5,168.4 1383.0,172.8 1383.5,173.4 1384.0,170.4 1384.5,169.4 1385.0,173.4 1385.5,174.4 1386.0,170.5 1386.5,170.4 1387.1,172.7 1387.6,172.4 1388.1,167.7 1388.6,167.4 1389.1,171.5 1389.6,171.4 1390.1,168.9 1390.6,168.4 1391.1,170.4 1391.6,170.4 1392.1,167.2 1392.6,167.4 1393.1,170.5 1393.6,169.4 1394.1,166.4 1394.6,166.4 1395.1,169.6 1395.6,170.4 1396.1,167.9 1396.6,168.4 1397.1,171.9 1397.6,173.4 1398.1,170.2 1398.6,169.4 1399.1,171.9 1399.6,171.4 1400.1,169.3 1400.6,170.4 1401.1,174.2 1401.6,175.4 1402.1,175.2 1402.6,177.4 1403.1,176.2 1403.6,172.4 1404.1,172.9 1404.7,176.4 1405.2,174.2 1405.7,169.4 1406.2,170.9 1406.7,174.4 1407.2,178.5 1407.7,178.4 1408.2,173.8 1408.7,172.4 1409.2,176.7 1409.7,177.4 1410.2,174.7 1410.7,174.4 1411.2,174.1 1411.7,169.4 1412.2,169.8 1412.7,174.4 1413.2,177.0 1413.7,177.4 1414.2,174.0 1414.7,173.4 1415.2,177.3 1415.7,177.4 1416.2,172.5 1416.7,171.4 1417.2,175.6 1417.7,175.4 1418.2,170.9 1418.7,169.4 1419.2,173.9 1419.7,174.4 1420.2,170.6 1420.7,170.4 1421.2,172.7 1421.7,172.4 1422.2,170.2 1422.8,171.4 1423.3,174.5 1423.8,173.4 1424.3,169.9 1424.8,170.4 1425.3,172.5 1425.8,171.4 1426.3,168.7 1426.8,169.4 1427.3,170.9 1427.8,170.4 1428.3,168.1 1428.8,168.4 1429.3,166.3 1429.8,160.3 1430.3,158.8 1430.8,160.3 1431.3,166.0 1431.8,169.4 1432.3,165.7 1432.8,165.4 1433.3,169.7 1433.8,170.4 1434.3,166.6 1434.8,166.4 1435.3,170.8 1435.8,172.4 1436.3,167.9 1436.8,166.4 1437.3,169.0 1437.8,168.4 1438.3,162.4 1438.8,160.3 1439.3,164.5 1439.8,165.4 1440.3,166.4 1440.9,170.4 1441.4,171.0 1441.9,168.4 1442.4,167.9 1442.9,169.4 1443.4,168.9 1443.9,166.4 1444.4,166.0 1444.9,169.4 1445.4,172.1 1445.9,170.4 1446.4,167.2 1446.9,167.4 1447.4,170.3 1447.9,170.4 1448.4,170.2 1448.9,172.4 1449.4,172.5 1449.9,169.4 1450.4,169.2 1450.9,173.4 1451.4,173.8 1451.9,170.4 1452.4,168.2 1452.9,169.4 1453.4,173.0 1453.9,172.4 1454.4,170.1 1454.9,170.4 1455.4,173.5 1455.9,173.4 1456.4,168.7 1456.9,168.4 1457.4,173.1 1457.9,174.4 1458.5,170.4 1459.0,169.4 1459.5,171.7 1460.0,171.4 1460.5,170.2 1461.0,172.4 1461.5,175.6 1462.0,174.4 1462.5,172.4 1463.0,172.4 1463.5,171.4 1464.0,166.4 1464.5,162.4 1465.0,162.3 1465.5,170.0 1466.0,173.4 1466.5,172.5 1467.0,175.4 1467.5,177.9 1468.0,176.4 1468.5,173.8 1469.0,174.4 1469.5,176.6 1470.0,175.4 1470.5,174.9 1471.0,177.4 1471.5,177.5 1472.0,175.4 1472.5,175.9 1473.0,180.5 1473.5,181.6 1474.0,179.4 1474.5,179.7 1475.0,182.5 1475.5,181.6 1476.0,177.4 1476.6,178.9 1477.1,183.5 1477.6,183.4 1478.1,180.5 1478.6,178.5 1479.1,179.4 1479.6,177.6 1480.1,172.4 1480.6,173.7 1481.1,178.4 1481.6,181.7 1482.1,181.5 1482.6,178.9 1483.1,179.4 1483.6,179.4 1484.1,177.4 1484.6,177.7 1485.1,180.5 1485.6,181.1 1486.1,179.4 1486.6,178.7 1487.1,181.5 1487.6,184.0 1488.1,182.5 1488.6,179.5 1489.1,180.5 1489.6,183.9 1490.1,183.5 1490.6,182.0 1491.1,184.5 1491.6,187.3 1492.1,187.5 1492.6,182.9 1493.1,182.5 1493.6,185.8 1494.2,185.5 1494.7,182.4 1495.2,181.5 1495.7,185.0 1496.2,186.5 1496.7,184.0 1497.2,183.5 1497.7,183.9 1498.2,180.5 1498.7,175.7 1499.2,173.4 1499.7,178.0 1500.2,180.5 1500.7,178.2 1501.2,179.4 1501.7,179.3 1502.2,176.4 1502.7,173.4 1503.2,172.4 1503.7,172.6 1504.2,170.4 1504.7,168.3 1505.2,169.4 1505.7,170.6 1506.2,169.4 1506.7,167.6 1507.2,168.4 1507.7,170.3 1508.2,168.4 1508.7,164.8 1509.2,164.4 1510.2,163.7 1511.3,160.4 1511.8,159.8 1512.3,162.4 1512.8,161.9 1513.3,159.4 1513.8,159.4 1514.3,162.4 1514.8,164.9 1515.3,164.4 1515.8,161.2 1516.3,160.4 1516.8,162.0 1517.3,161.4 1517.8,160.3 1518.3,163.4 1518.8,163.5 1519.3,160.4 1519.8,161.2 1520.3,164.4 1520.8,164.6 1521.3,161.4 1521.8,158.9 1522.3,160.4 1522.8,162.9 1523.3,163.4 1523.8,162.9 1524.3,164.4 1524.9,165.6 1525.4,164.4 1525.9,163.5 1526.4,166.4 1526.9,168.6 1527.4,168.4 1527.9,167.6 1528.4,170.5 1528.9,173.8 1529.4,173.5 1529.9,172.3 1530.4,174.5 1530.9,174.7 1531.4,172.5 1531.9,172.3 1532.4,176.5 1532.9,179.0 1533.4,177.5 1533.9,171.8 1534.4,169.4 1534.9,172.7 1535.4,173.5 1535.9,174.2 1536.4,178.5 1536.9,178.5 1537.4,175.5 1537.9,175.8 1538.4,179.5 1538.9,179.4 1539.4,176.5 1539.9,175.2 1540.5,177.5 1541.0,180.0 1541.5,180.5 1542.0,179.7 1542.5,181.5 1543.0,185.2 1543.5,184.5 1544.0,184.5 1544.5,188.6 1545.0,191.9 1545.5,192.6 1546.0,191.5 1546.5,194.6 1547.0,197.0 1547.5,196.6 1548.0,195.5 1548.5,198.6 1549.0,200.3 1549.5,198.2 1550.0,195.9 1550.5,196.6 1551.0,197.9 1551.5,196.6 1552.0,194.6 1552.5,194.6 1553.0,196.2 1553.5,193.6 1554.0,191.6 1554.5,191.6 1555.0,194.1 1555.5,192.6 1556.1,188.9 1556.6,189.6 1557.1,191.8 1557.6,190.6 1558.1,189.9 1558.6,191.6 1559.1,192.1 1559.6,188.6 1560.1,188.4 1560.6,192.6 1561.1,191.4 1561.6,186.6 1562.1,185.9 1562.6,188.6 1563.1,188.0 1563.6,184.5 1564.1,180.6 1564.6,179.5 1565.1,182.2 1565.6,182.5 1566.1,177.7 1566.6,176.5 1567.1,180.0 1567.6,180.5 1568.1,176.8 1568.6,175.5 1569.1,178.1 1569.6,178.5 1570.1,174.7 1570.6,174.5 1571.1,174.8 1571.7,172.5 1572.2,172.9 1572.7,176.5 1573.2,175.3 1573.7,171.5 1574.2,168.4 1574.7,169.4 1575.2,171.1 1575.7,168.4 1576.2,169.0 1576.7,171.5 1577.2,174.2 1577.7,174.5 1578.2,171.6 1578.7,171.5 1579.2,172.2 1579.7,168.4 1580.2,167.0 1580.7,169.4 1581.2,173.4 1581.7,174.5 1582.2,174.3 1582.7,176.5 1583.2,180.3 1583.7,180.5 1584.2,179.5 1584.7,182.5 1585.2,184.7 1585.7,182.5 1586.2,182.1 1586.7,184.5 1587.3,188.6 1587.8,188.6 1588.3,184.7 1588.8,184.5 1589.3,190.1 1589.8,192.6 1590.3,188.4 1590.8,188.6 1591.3,188.8 1591.8,186.6 1592.3,188.7 1592.8,194.6 1593.3,196.7 1593.8,196.6 1594.3,187.4 1594.8,180.5 1595.3,182.1 1595.8,179.5 1596.3,180.8 1596.8,184.5 1597.3,185.0 1597.8,181.5 1598.3,179.3 1598.8,180.5 1599.3,181.5 1599.8,178.5 1600.3,178.1 1600.8,180.5 1601.3,182.9 1601.8,182.5 1602.3,179.7 1602.9,179.5 1603.4,185.1 1603.9,186.6 1604.4,182.3 1604.9,181.5 1605.4,183.2 1605.9,180.5 1606.4,179.9 1606.9,183.5 1607.4,183.2 1607.9,180.5 1608.4,180.9 1608.9,184.5 1609.4,186.1 1609.9,185.5 1610.4,183.0 1610.9,182.5 1611.4,184.6 1611.9,184.5 1612.4,184.5 1612.9,188.6 1613.4,189.0 1613.9,185.5 1614.4,182.0 1614.9,182.5 1615.4,188.0 1615.9,190.6 1616.4,185.8 1616.9,184.5 1617.4,184.5 1617.9,180.5 1618.5,183.1 1619.0,188.6 1619.5,187.2 1620.0,182.5 1620.5,180.3 1621.0,180.5 1621.5,184.6 1622.0,186.6 1622.5,184.7 1623.0,185.5 1623.5,187.1 1624.0,184.5 1624.5,184.9 1625.0,188.6 1625.5,186.7 1626.0,180.5 1626.5,182.0 1627.0,186.6 1627.5,188.9 1628.0,188.6 1628.5,185.1 1629.0,185.5 1629.5,187.1 1630.0,184.5 1630.5,184.1 1631.0,185.5 1631.5,185.9 1632.0,182.5 1632.5,182.5 1633.0,184.5 1633.5,185.1 1634.0,183.5 1634.6,179.9 1635.1,180.5 1635.6,182.5 1636.1,182.5 1636.6,179.8 1637.1,179.5 1637.6,182.7 1638.1,181.5 1638.6,178.0 1639.1,177.5 1639.6,179.1 1640.1,178.5 1640.6,176.3 1641.1,176.5 1641.6,179.8 1642.1,180.5 1642.6,176.1 1643.1,175.5 1643.6,178.1 1644.1,178.5 1644.6,173.9 1645.1,173.5 1645.6,176.4 1646.1,176.5 1646.6,175.8 1647.1,179.5" fill="none" stroke="#bc2020" stroke-width="2.8" stroke-linejoin="round" stroke-linecap="butt"/>
<line x1="144.6" y1="100.6" x2="144.6" y2="416.7" stroke="#000" stroke-width="2.5"/>
<line x1="544.1" y1="317" x2="544.1" y2="416.7" stroke="#000" stroke-width="2.5"/>
<line x1="143.35" y1="415.4" x2="545.35" y2="415.4" stroke="#000" stroke-width="2.7"/>
<line x1="138.1" y1="401.0" x2="144.6" y2="401.0" stroke="#3c3c3c" stroke-width="2"/>
<text x="132.1" y="411.3" text-anchor="end" font-family="Liberation Sans, Arial, sans-serif" font-size="29" fill="#3c3c3c">0</text>
<line x1="138.1" y1="343.1" x2="144.6" y2="343.1" stroke="#3c3c3c" stroke-width="2"/>
<text x="132.1" y="353.4" text-anchor="end" font-family="Liberation Sans, Arial, sans-serif" font-size="29" fill="#3c3c3c">25</text>
<line x1="138.1" y1="285.1" x2="144.6" y2="285.1" stroke="#3c3c3c" stroke-width="2"/>
<text x="132.1" y="295.4" text-anchor="end" font-family="Liberation Sans, Arial, sans-serif" font-size="29" fill="#3c3c3c">50</text>
<line x1="138.1" y1="227.2" x2="144.6" y2="227.2" stroke="#3c3c3c" stroke-width="2"/>
<text x="132.1" y="237.5" text-anchor="end" font-family="Liberation Sans, Arial, sans-serif" font-size="29" fill="#3c3c3c">75</text>
<line x1="138.1" y1="169.2" x2="144.6" y2="169.2" stroke="#3c3c3c" stroke-width="2"/>
<text x="132.1" y="179.5" text-anchor="end" font-family="Liberation Sans, Arial, sans-serif" font-size="29" fill="#3c3c3c">100</text>
<line x1="138.1" y1="111.3" x2="144.6" y2="111.3" stroke="#3c3c3c" stroke-width="2"/>
<text x="132.1" y="121.6" text-anchor="end" font-family="Liberation Sans, Arial, sans-serif" font-size="29" fill="#3c3c3c">125</text>
<line x1="223.4" y1="415" x2="223.4" y2="421.5" stroke="#3c3c3c" stroke-width="2"/>
<text x="223.4" y="448.3" text-anchor="middle" font-family="Liberation Sans, Arial, sans-serif" font-size="29" fill="#3c3c3c">1</text>
<line x1="301.2" y1="415" x2="301.2" y2="421.5" stroke="#3c3c3c" stroke-width="2"/>
<text x="301.2" y="448.3" text-anchor="middle" font-family="Liberation Sans, Arial, sans-serif" font-size="29" fill="#3c3c3c">2</text>
<line x1="378.2" y1="415" x2="378.2" y2="421.5" stroke="#3c3c3c" stroke-width="2"/>
<text x="378.2" y="448.3" text-anchor="middle" font-family="Liberation Sans, Arial, sans-serif" font-size="29" fill="#3c3c3c">3</text>
<line x1="455.2" y1="415" x2="455.2" y2="421.5" stroke="#3c3c3c" stroke-width="2"/>
<text x="455.2" y="448.3" text-anchor="middle" font-family="Liberation Sans, Arial, sans-serif" font-size="29" fill="#3c3c3c">4</text>
<line x1="533.0" y1="415" x2="533.0" y2="421.5" stroke="#3c3c3c" stroke-width="2"/>
<text x="533.0" y="448.3" text-anchor="middle" font-family="Liberation Sans, Arial, sans-serif" font-size="29" fill="#3c3c3c">5</text>
<line x1="544.1" y1="401.0" x2="551.6" y2="401.0" stroke="#3c3c3c" stroke-width="2"/>
<text x="585.3" y="411.3" text-anchor="end" font-family="Liberation Sans, Arial, sans-serif" font-size="29" fill="#3c3c3c">0</text>
<line x1="544.1" y1="344.0" x2="551.6" y2="344.0" stroke="#3c3c3c" stroke-width="2"/>
<text x="585.3" y="354.3" text-anchor="end" font-family="Liberation Sans, Arial, sans-serif" font-size="29" fill="#3c3c3c">10</text>
<text transform="translate(613.5,355.5) rotate(-90)" text-anchor="middle" font-family="Liberation Sans, Arial, sans-serif" font-size="25" textLength="128.5" lengthAdjust="spacingAndGlyphs" fill="#000">Voltage (V)</text>
<line x1="683.0" y1="100.6" x2="683.0" y2="416.7" stroke="#000" stroke-width="2.5"/>
<line x1="1065.4" y1="317" x2="1065.4" y2="416.7" stroke="#000" stroke-width="2.5"/>
<line x1="681.75" y1="415.4" x2="1066.65" y2="415.4" stroke="#000" stroke-width="2.7"/>
<line x1="676.5" y1="401.0" x2="683.0" y2="401.0" stroke="#3c3c3c" stroke-width="2"/>
<text x="670.5" y="411.3" text-anchor="end" font-family="Liberation Sans, Arial, sans-serif" font-size="29" fill="#3c3c3c">0</text>
<line x1="676.5" y1="343.1" x2="683.0" y2="343.1" stroke="#3c3c3c" stroke-width="2"/>
<text x="670.5" y="353.4" text-anchor="end" font-family="Liberation Sans, Arial, sans-serif" font-size="29" fill="#3c3c3c">25</text>
<line x1="676.5" y1="285.1" x2="683.0" y2="285.1" stroke="#3c3c3c" stroke-width="2"/>
<text x="670.5" y="295.4" text-anchor="end" font-family="Liberation Sans, Arial, sans-serif" font-size="29" fill="#3c3c3c">50</text>
<line x1="676.5" y1="227.2" x2="683.0" y2="227.2" stroke="#3c3c3c" stroke-width="2"/>
<text x="670.5" y="237.5" text-anchor="end" font-family="Liberation Sans, Arial, sans-serif" font-size="29" fill="#3c3c3c">75</text>
<line x1="676.5" y1="169.2" x2="683.0" y2="169.2" stroke="#3c3c3c" stroke-width="2"/>
<text x="670.5" y="179.5" text-anchor="end" font-family="Liberation Sans, Arial, sans-serif" font-size="29" fill="#3c3c3c">100</text>
<line x1="676.5" y1="111.3" x2="683.0" y2="111.3" stroke="#3c3c3c" stroke-width="2"/>
<text x="670.5" y="121.6" text-anchor="end" font-family="Liberation Sans, Arial, sans-serif" font-size="29" fill="#3c3c3c">125</text>
<line x1="772.5" y1="415" x2="772.5" y2="421.5" stroke="#3c3c3c" stroke-width="2"/>
<text x="772.5" y="448.3" text-anchor="middle" font-family="Liberation Sans, Arial, sans-serif" font-size="29" fill="#3c3c3c">1</text>
<line x1="841.5" y1="415" x2="841.5" y2="421.5" stroke="#3c3c3c" stroke-width="2"/>
<text x="841.5" y="448.3" text-anchor="middle" font-family="Liberation Sans, Arial, sans-serif" font-size="29" fill="#3c3c3c">2</text>
<line x1="911.0" y1="415" x2="911.0" y2="421.5" stroke="#3c3c3c" stroke-width="2"/>
<text x="911.0" y="448.3" text-anchor="middle" font-family="Liberation Sans, Arial, sans-serif" font-size="29" fill="#3c3c3c">3</text>
<line x1="980.0" y1="415" x2="980.0" y2="421.5" stroke="#3c3c3c" stroke-width="2"/>
<text x="980.0" y="448.3" text-anchor="middle" font-family="Liberation Sans, Arial, sans-serif" font-size="29" fill="#3c3c3c">4</text>
<line x1="1049.8" y1="415" x2="1049.8" y2="421.5" stroke="#3c3c3c" stroke-width="2"/>
<text x="1049.8" y="448.3" text-anchor="middle" font-family="Liberation Sans, Arial, sans-serif" font-size="29" fill="#3c3c3c">5</text>
<line x1="1065.4" y1="401.0" x2="1072.9" y2="401.0" stroke="#3c3c3c" stroke-width="2"/>
<text x="1105.8" y="411.3" text-anchor="end" font-family="Liberation Sans, Arial, sans-serif" font-size="29" fill="#3c3c3c">0</text>
<line x1="1065.4" y1="344.0" x2="1072.9" y2="344.0" stroke="#3c3c3c" stroke-width="2"/>
<text x="1105.8" y="354.3" text-anchor="end" font-family="Liberation Sans, Arial, sans-serif" font-size="29" fill="#3c3c3c">10</text>
<text transform="translate(1133.2,355.5) rotate(-90)" text-anchor="middle" font-family="Liberation Sans, Arial, sans-serif" font-size="25" textLength="128.5" lengthAdjust="spacingAndGlyphs" fill="#000">Voltage (V)</text>
<line x1="1206.3" y1="100.6" x2="1206.3" y2="416.7" stroke="#000" stroke-width="2.5"/>
<line x1="1657.3" y1="317" x2="1657.3" y2="416.7" stroke="#000" stroke-width="2.5"/>
<line x1="1205.05" y1="415.4" x2="1658.55" y2="415.4" stroke="#000" stroke-width="2.7"/>
<line x1="1199.8" y1="401.0" x2="1206.3" y2="401.0" stroke="#3c3c3c" stroke-width="2"/>
<text x="1193.8" y="411.3" text-anchor="end" font-family="Liberation Sans, Arial, sans-serif" font-size="29" fill="#3c3c3c">0</text>
<line x1="1199.8" y1="343.1" x2="1206.3" y2="343.1" stroke="#3c3c3c" stroke-width="2"/>
<text x="1193.8" y="353.4" text-anchor="end" font-family="Liberation Sans, Arial, sans-serif" font-size="29" fill="#3c3c3c">25</text>
<line x1="1199.8" y1="285.1" x2="1206.3" y2="285.1" stroke="#3c3c3c" stroke-width="2"/>
<text x="1193.8" y="295.4" text-anchor="end" font-family="Liberation Sans, Arial, sans-serif" font-size="29" fill="#3c3c3c">50</text>
<line x1="1199.8" y1="227.2" x2="1206.3" y2="227.2" stroke="#3c3c3c" stroke-width="2"/>
<text x="1193.8" y="237.5" text-anchor="end" font-family="Liberation Sans, Arial, sans-serif" font-size="29" fill="#3c3c3c">75</text>
<line x1="1199.8" y1="169.2" x2="1206.3" y2="169.2" stroke="#3c3c3c" stroke-width="2"/>
<text x="1193.8" y="179.5" text-anchor="end" font-family="Liberation Sans, Arial, sans-serif" font-size="29" fill="#3c3c3c">100</text>
<line x1="1199.8" y1="111.3" x2="1206.3" y2="111.3" stroke="#3c3c3c" stroke-width="2"/>
<text x="1193.8" y="121.6" text-anchor="end" font-family="Liberation Sans, Arial, sans-serif" font-size="29" fill="#3c3c3c">125</text>
<line x1="1281.7" y1="415" x2="1281.7" y2="421.5" stroke="#3c3c3c" stroke-width="2"/>
<text x="1281.7" y="448.3" text-anchor="middle" font-family="Liberation Sans, Arial, sans-serif" font-size="29" fill="#3c3c3c">1</text>
<line x1="1351.2" y1="415" x2="1351.2" y2="421.5" stroke="#3c3c3c" stroke-width="2"/>
<text x="1351.2" y="448.3" text-anchor="middle" font-family="Liberation Sans, Arial, sans-serif" font-size="29" fill="#3c3c3c">2</text>
<line x1="1420.1" y1="415" x2="1420.1" y2="421.5" stroke="#3c3c3c" stroke-width="2"/>
<text x="1420.1" y="448.3" text-anchor="middle" font-family="Liberation Sans, Arial, sans-serif" font-size="29" fill="#3c3c3c">3</text>
<line x1="1490.0" y1="415" x2="1490.0" y2="421.5" stroke="#3c3c3c" stroke-width="2"/>
<text x="1490.0" y="448.3" text-anchor="middle" font-family="Liberation Sans, Arial, sans-serif" font-size="29" fill="#3c3c3c">4</text>
<line x1="1559.0" y1="415" x2="1559.0" y2="421.5" stroke="#3c3c3c" stroke-width="2"/>
<text x="1559.0" y="448.3" text-anchor="middle" font-family="Liberation Sans, Arial, sans-serif" font-size="29" fill="#3c3c3c">5</text>
<line x1="1628.9" y1="415" x2="1628.9" y2="421.5" stroke="#3c3c3c" stroke-width="2"/>
<text x="1628.9" y="448.3" text-anchor="middle" font-family="Liberation Sans, Arial, sans-serif" font-size="29" fill="#3c3c3c">6</text>
<line x1="1657.3" y1="401.0" x2="1664.8" y2="401.0" stroke="#3c3c3c" stroke-width="2"/>
<text x="1700.2" y="411.3" text-anchor="end" font-family="Liberation Sans, Arial, sans-serif" font-size="29" fill="#3c3c3c">0</text>
<line x1="1657.3" y1="344.0" x2="1664.8" y2="344.0" stroke="#3c3c3c" stroke-width="2"/>
<text x="1700.2" y="354.3" text-anchor="end" font-family="Liberation Sans, Arial, sans-serif" font-size="29" fill="#3c3c3c">10</text>
<text transform="translate(1726.7,355.5) rotate(-90)" text-anchor="middle" font-family="Liberation Sans, Arial, sans-serif" font-size="25" textLength="128.5" lengthAdjust="spacingAndGlyphs" fill="#000">Voltage (V)</text>
<text transform="translate(366.0,481.2) scale(1,0.92)" text-anchor="middle" font-family="Liberation Sans, Arial, sans-serif" font-size="23.5" fill="#000">Time (min)</text>
<text transform="translate(870.6,481.2) scale(1,0.92)" text-anchor="middle" font-family="Liberation Sans, Arial, sans-serif" font-size="23.5" fill="#000">Time (min)</text>
<text transform="translate(1427.0,481.2) scale(1,0.92)" text-anchor="middle" font-family="Liberation Sans, Arial, sans-serif" font-size="23.5" fill="#000">Time (min)</text>
<line x1="155.4" y1="401.9" x2="538.2" y2="401.9" stroke="#000" stroke-width="2.4"/>
<line x1="695.2" y1="401.3" x2="1059.4" y2="401.3" stroke="#000" stroke-width="2.4"/>
<line x1="1212.9" y1="401.4" x2="1360.2" y2="401.4" stroke="#000" stroke-width="2.4"/>
<line x1="1373.4" y1="372.6" x2="1654.0" y2="372.6" stroke="#000" stroke-width="2.4"/>
<polygon points="312.6,388.3 326.5,388.3 316.8,420 302.3,420" fill="#fff"/>
<line x1="312.6" y1="388.3" x2="302.3" y2="420" stroke="#333" stroke-width="2.2"/>
<line x1="326.5" y1="388.3" x2="316.8" y2="420" stroke="#333" stroke-width="2.2"/>
<polygon points="824.7,395.3 838.4,395.3 828.0,426.7 814.5,426.7" fill="#fff"/>
<line x1="824.7" y1="395.3" x2="814.5" y2="426.7" stroke="#333" stroke-width="2.2"/>
<line x1="838.4" y1="395.3" x2="828.0" y2="426.7" stroke="#333" stroke-width="2.2"/>
<polygon points="1362.8,395.3 1376.5,395.3 1366.4,426.7 1352.9,426.7" fill="#fff"/>
<line x1="1362.8" y1="395.3" x2="1352.9" y2="426.7" stroke="#333" stroke-width="2.2"/>
<line x1="1376.5" y1="395.3" x2="1366.4" y2="426.7" stroke="#333" stroke-width="2.2"/>
<text transform="translate(29.6,253.6) rotate(-90)" text-anchor="middle" font-family="Liberation Sans, Arial, sans-serif" font-size="28" textLength="304" lengthAdjust="spacingAndGlyphs" fill="#000">Blood Pressure (mmHg)</text>
<text transform="translate(61.9,253.3) rotate(-90)" text-anchor="middle" font-family="Liberation Sans, Arial, sans-serif" font-size="27.4" textLength="226" lengthAdjust="spacingAndGlyphs" fill="#bc2020">Heart Rate (BPM)</text>
<text x="10.6" y="32.5" font-family="Liberation Sans, Arial, sans-serif" font-size="30.5" font-weight="bold" fill="#000">A</text>
<text x="578.8" y="32.5" font-family="Liberation Sans, Arial, sans-serif" font-size="30.5" font-weight="bold" fill="#000">B</text>
<text x="1103.8" y="32.5" font-family="Liberation Sans, Arial, sans-serif" font-size="30.5" font-weight="bold" fill="#000">C</text>
<polyline points="153.7,34.7 153.7,28.1 313.9,28.1 313.9,34.7" fill="none" stroke="#000" stroke-width="2.2" stroke-linejoin="miter"/>
<polyline points="323.7,34.7 323.7,28.1 535.4,28.1 535.4,34.7" fill="none" stroke="#000" stroke-width="2.2" stroke-linejoin="miter"/>
<polyline points="154.7,68.5 154.7,61.9 531.6,61.9 531.6,68.5" fill="none" stroke="#000" stroke-width="2.2" stroke-linejoin="miter"/>
<polyline points="700.8,34.6 700.8,28.0 816.7,28.0 816.7,34.6" fill="none" stroke="#000" stroke-width="2.2" stroke-linejoin="miter"/>
<polyline points="828.5,34.6 828.5,28.0 1058.8,28.0 1058.8,34.6" fill="none" stroke="#000" stroke-width="2.2" stroke-linejoin="miter"/>
<polyline points="699.4,72.1 699.4,65.5 1061.8,65.5 1061.8,72.1" fill="none" stroke="#000" stroke-width="2.2" stroke-linejoin="miter"/>
<polyline points="1216.1,34.6 1216.1,28.0 1355.6,28.0 1355.6,34.6" fill="none" stroke="#000" stroke-width="2.2" stroke-linejoin="miter"/>
<polyline points="1364.4,34.6 1364.4,28.0 1647.0,28.0 1647.0,34.6" fill="none" stroke="#000" stroke-width="2.2" stroke-linejoin="miter"/>
<polyline points="1216.1,72.89999999999999 1216.1,66.3 1355.6,66.3 1355.6,72.89999999999999" fill="none" stroke="#000" stroke-width="2.2" stroke-linejoin="miter"/>
<polyline points="1364.4,72.89999999999999 1364.4,66.3 1647.0,66.3 1647.0,72.89999999999999" fill="none" stroke="#000" stroke-width="2.2" stroke-linejoin="miter"/>
<text transform="translate(230.8,21.1) scale(1,0.93)" text-anchor="middle" font-family="Liberation Sans, Arial, sans-serif" font-size="23.5" fill="#000">Sitting</text>
<text transform="translate(422.8,21.1) scale(1,0.93)" text-anchor="middle" font-family="Liberation Sans, Arial, sans-serif" font-size="23.5" fill="#000">Standing</text>
<text transform="translate(344.1,59.5) scale(1,0.93)" text-anchor="middle" font-family="Liberation Sans, Arial, sans-serif" font-size="23.5" fill="#000">Stimulator Off</text>
<text transform="translate(756.6,21.1) scale(1,0.93)" text-anchor="middle" font-family="Liberation Sans, Arial, sans-serif" font-size="23.5" fill="#000">Sitting</text>
<text transform="translate(934.4,21.1) scale(1,0.93)" text-anchor="middle" font-family="Liberation Sans, Arial, sans-serif" font-size="23.5" fill="#000">Standing</text>
<text transform="translate(874.7,62.9) scale(1,0.93)" text-anchor="middle" font-family="Liberation Sans, Arial, sans-serif" font-size="23.5" fill="#000">Stimulator Off</text>
<text transform="translate(1287.0,21.1) scale(1,0.93)" text-anchor="middle" font-family="Liberation Sans, Arial, sans-serif" font-size="23.5" fill="#000">Sitting</text>
<text transform="translate(1508.9,21.1) scale(1,0.93)" text-anchor="middle" font-family="Liberation Sans, Arial, sans-serif" font-size="23.5" fill="#000">Standing</text>
<text transform="translate(1285.5,63.6) scale(1,0.93)" text-anchor="middle" font-family="Liberation Sans, Arial, sans-serif" font-size="23.5" fill="#000">Stimulator Off</text>
<text transform="translate(1521.6,63.4) scale(1,0.93)" text-anchor="middle" font-family="Liberation Sans, Arial, sans-serif" font-size="23.5" fill="#000">Stimulator On</text>
<rect x="1714.9" y="27.3" width="19.2" height="17.68" fill="#fff" stroke="#000" stroke-width="1.9"/>
<rect x="1695.7" y="45.0" width="19.2" height="17.68" fill="#fff" stroke="#000" stroke-width="1.9"/>
<rect x="1714.9" y="45.0" width="19.2" height="17.68" fill="#fff" stroke="#000" stroke-width="1.9"/>
<rect x="1734.1" y="45.0" width="19.2" height="17.68" fill="#fff" stroke="#000" stroke-width="1.9"/>
<rect x="1714.9" y="62.7" width="19.2" height="17.68" fill="#fff" stroke="#000" stroke-width="1.9"/>
<rect x="1695.7" y="80.3" width="19.2" height="17.68" fill="#fff" stroke="#000" stroke-width="1.9"/>
<rect x="1714.9" y="80.3" width="19.2" height="17.68" fill="#fff" stroke="#000" stroke-width="1.9"/>
<rect x="1734.1" y="80.3" width="19.2" height="17.68" fill="#fff" stroke="#000" stroke-width="1.9"/>
<rect x="1714.9" y="98.0" width="19.2" height="17.68" fill="#000" stroke="#000" stroke-width="1.9"/>
<rect x="1695.7" y="115.7" width="19.2" height="17.68" fill="#ff0000" stroke="#000" stroke-width="1.9"/>
<rect x="1714.9" y="115.7" width="19.2" height="17.68" fill="#fff" stroke="#000" stroke-width="1.9"/>
<rect x="1734.1" y="115.7" width="19.2" height="17.68" fill="#000" stroke="#000" stroke-width="1.9"/>
<rect x="1714.9" y="133.4" width="19.2" height="17.68" fill="#fff" stroke="#000" stroke-width="1.9"/>
<rect x="1695.7" y="151.1" width="19.2" height="17.68" fill="#fff" stroke="#000" stroke-width="1.9"/>
<rect x="1714.9" y="151.1" width="19.2" height="17.68" fill="#fff" stroke="#000" stroke-width="1.9"/>
<rect x="1734.1" y="151.1" width="19.2" height="17.68" fill="#fff" stroke="#000" stroke-width="1.9"/>
<rect x="1714.9" y="168.7" width="19.2" height="17.68" fill="#fff" stroke="#000" stroke-width="1.9"/>
<rect x="1695.7" y="186.4" width="19.2" height="17.68" fill="#ff0000" stroke="#000" stroke-width="1.9"/>
<rect x="1714.9" y="186.4" width="19.2" height="17.68" fill="#fff" stroke="#000" stroke-width="1.9"/>
<rect x="1734.1" y="186.4" width="19.2" height="17.68" fill="#ff0000" stroke="#000" stroke-width="1.9"/>
<rect x="1714.9" y="204.1" width="19.2" height="17.68" fill="#000" stroke="#000" stroke-width="1.9"/>
<text x="1724.5" y="40.6" text-anchor="middle" font-family="Liberation Sans, Arial, sans-serif" font-size="13" fill="#000">5</text>
<text x="1705.3" y="58.3" text-anchor="middle" font-family="Liberation Sans, Arial, sans-serif" font-size="13" fill="#000">0</text>
<text x="1743.7" y="58.3" text-anchor="middle" font-family="Liberation Sans, Arial, sans-serif" font-size="13" fill="#000">11</text>
<text x="1724.5" y="76.0" text-anchor="middle" font-family="Liberation Sans, Arial, sans-serif" font-size="13" fill="#000">6</text>
<text x="1705.3" y="93.7" text-anchor="middle" font-family="Liberation Sans, Arial, sans-serif" font-size="13" fill="#000">1</text>
<text x="1743.7" y="93.7" text-anchor="middle" font-family="Liberation Sans, Arial, sans-serif" font-size="13" fill="#000">12</text>
<text x="1724.5" y="111.4" text-anchor="middle" font-family="Liberation Sans, Arial, sans-serif" font-size="13" fill="#fff">7</text>
<text x="1705.3" y="129.0" text-anchor="middle" font-family="Liberation Sans, Arial, sans-serif" font-size="13" fill="#000">2</text>
<text x="1743.7" y="129.0" text-anchor="middle" font-family="Liberation Sans, Arial, sans-serif" font-size="13" fill="#fff">13</text>
<text x="1724.5" y="146.7" text-anchor="middle" font-family="Liberation Sans, Arial, sans-serif" font-size="13" fill="#000">8</text>
<text x="1705.3" y="164.4" text-anchor="middle" font-family="Liberation Sans, Arial, sans-serif" font-size="13" fill="#000">3</text>
<text x="1743.7" y="164.4" text-anchor="middle" font-family="Liberation Sans, Arial, sans-serif" font-size="13" fill="#000">14</text>
<text x="1724.5" y="182.1" text-anchor="middle" font-family="Liberation Sans, Arial, sans-serif" font-size="13" fill="#000">9</text>
<text x="1705.3" y="199.8" text-anchor="middle" font-family="Liberation Sans, Arial, sans-serif" font-size="13" fill="#000">4</text>
<text x="1743.7" y="199.8" text-anchor="middle" font-family="Liberation Sans, Arial, sans-serif" font-size="13" fill="#000">15</text>
<text x="1724.5" y="217.4" text-anchor="middle" font-family="Liberation Sans, Arial, sans-serif" font-size="13" fill="#fff">10</text>
</svg>
</body></html>
